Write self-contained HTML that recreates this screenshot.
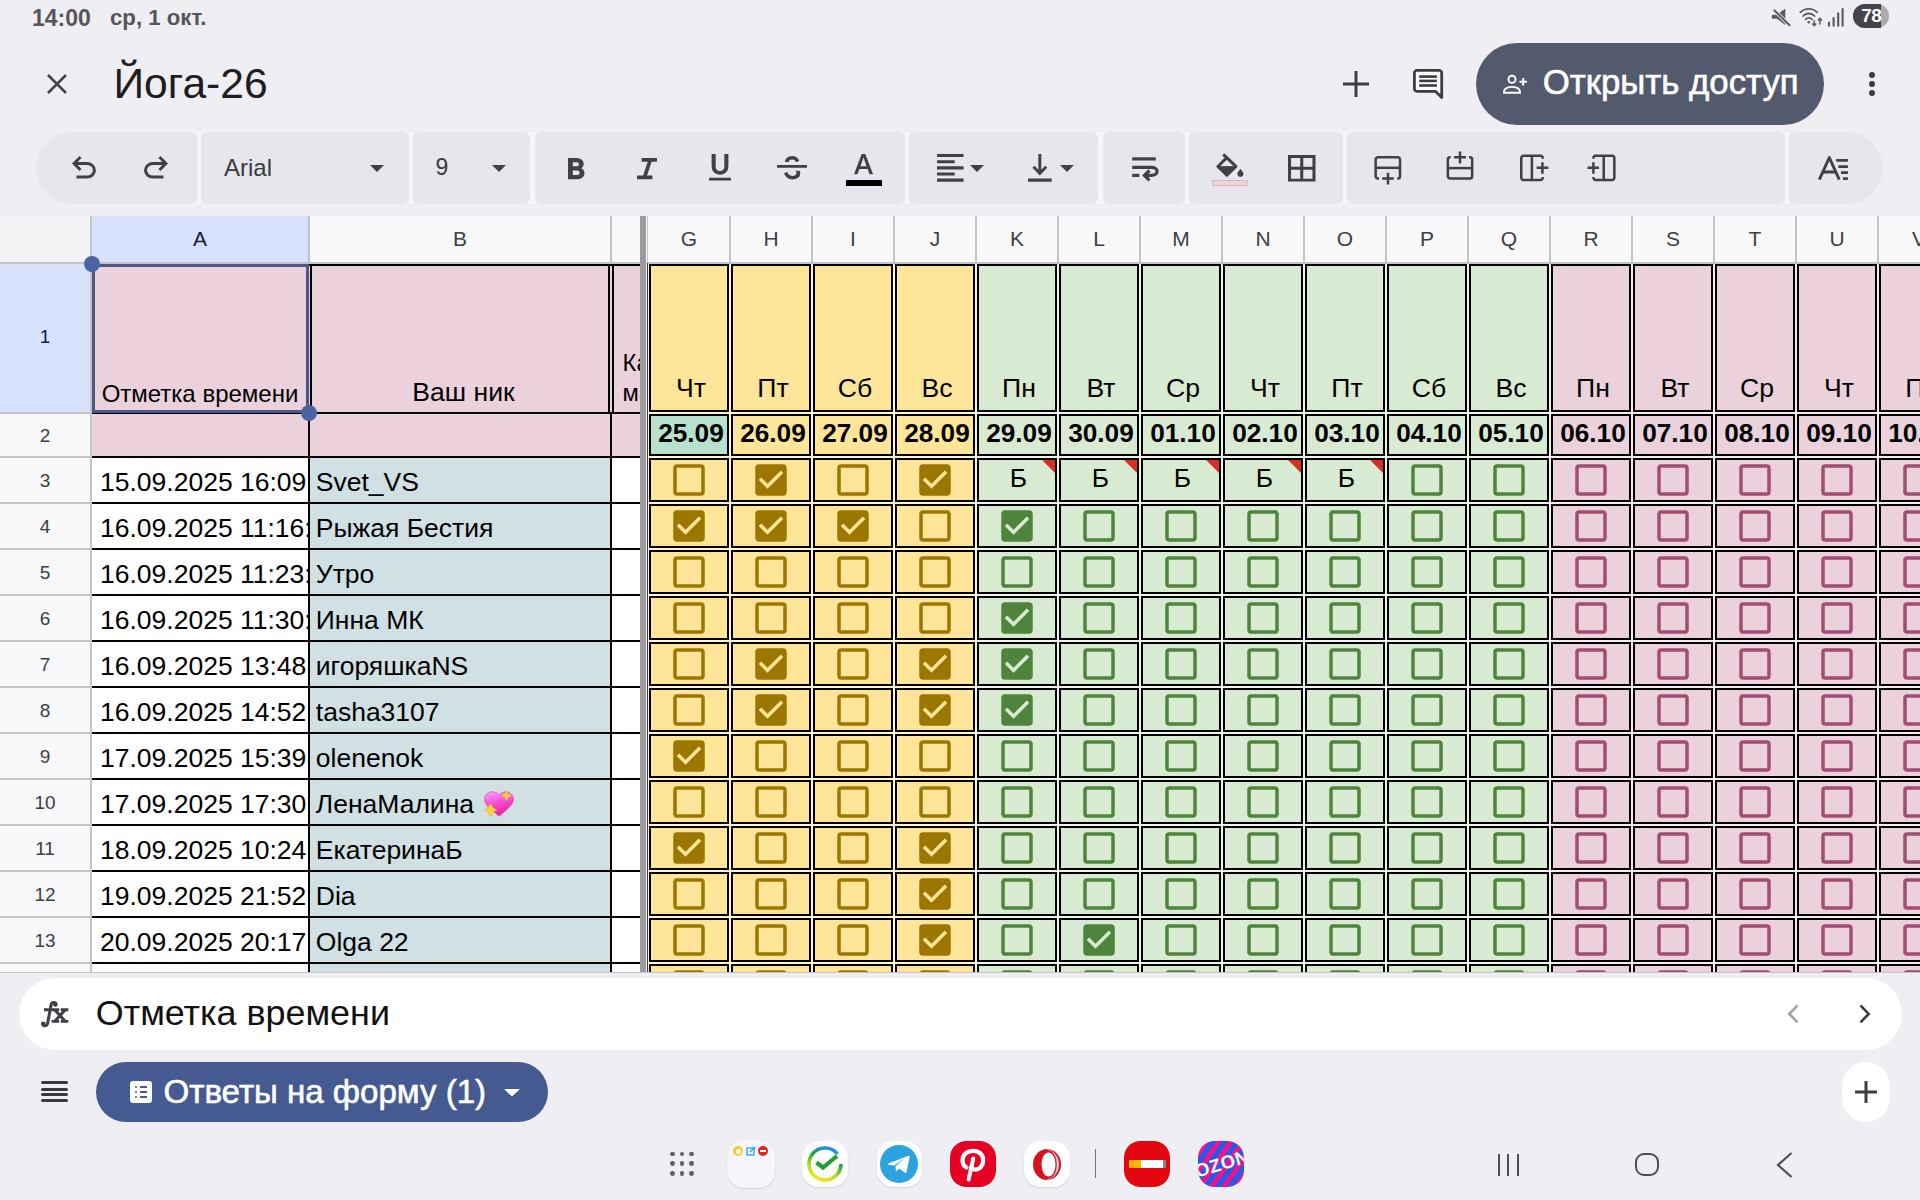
<!DOCTYPE html><html><head><meta charset="utf-8"><style>html,body{margin:0;padding:0;}body{width:1920px;height:1200px;overflow:hidden;position:relative;background:#efeef3;font-family:"Liberation Sans", sans-serif;}.t{position:absolute;white-space:nowrap;}.b{position:absolute;}.s{position:absolute;overflow:visible;}</style></head><body><div class="t" style="top:6.53px;font-size:23px;line-height:23px;color:#55555b;font-weight:bold;left:32.00px;">14:00</div>
<div class="t" style="top:7.21px;font-size:22.2px;line-height:22.2px;color:#55555b;font-weight:bold;left:110.00px;">ср, 1 окт.</div>
<svg class="s" style="left:1768px;top:4px;" width="80" height="26" viewBox="0 0 80 26"><path d="M5.5 10.8h3.6l8.2-6.2v16.4l-8.2-6.2H5.5a1.9 1.9 0 0 1-1.9-1.9v-0.2a1.9 1.9 0 0 1 1.9-1.9z" fill="#58585e"/><path d="M5.6 5.6L22 21.6" stroke="#efeef3" stroke-width="3.6"/><path d="M6.3 6.3L21.6 21.3" stroke="#58585e" stroke-width="1.9" stroke-linecap="round"/><path d="M32.3 8.4A12 12 0 0 1 49.3 8.4" transform="translate(0,0)" stroke="#58585e" stroke-width="1.8" fill="none" stroke-linecap="round"/><path d="M35 12A8 8 0 0 1 46.6 12" stroke="#58585e" stroke-width="1.8" fill="none" stroke-linecap="round"/><path d="M37.6 15.3A4.5 4.5 0 0 1 44 15.3" stroke="#58585e" stroke-width="1.8" fill="none" stroke-linecap="round"/><circle cx="40.8" cy="18.2" r="1.3" fill="#58585e"/><path d="M46.25 16.3V21.5M44.2 19.6L46.25 21.7L48.3 19.6" stroke="#58585e" stroke-width="1.5" fill="none"/><path d="M51.9 20.4V14.6M49.9 16.5L51.9 14.4L53.9 16.5" stroke="#58585e" stroke-width="1.5" fill="none"/><path d="M61 21.7V18.6M65.6 21.7V14M70.2 21.7V9.4M74.6 21.7V5" stroke="#58585e" stroke-width="2.1" stroke-linecap="round"/></svg>
<div class="b" style="left:1853px;top:4px;width:36px;height:24px;background:#ababaf;border-radius:12px;overflow:hidden;"></div>
<div class="b" style="left:1853px;top:4px;width:28px;height:24px;background:#434348;border-radius:12px 0 0 12px;"></div>
<div class="t" style="top:5.82px;font-size:19px;line-height:19px;color:#ffffff;font-weight:bold;left:1861.20px;letter-spacing:-0.5px;">78</div>
<svg class="s" style="left:45px;top:72px;" width="24" height="24" viewBox="0 0 24 24"><path d="M3 3L21 21M21 3L3 21" stroke="#44454c" stroke-width="2.6" fill="none"/></svg>
<div class="t" style="top:61.94px;font-size:42.6px;line-height:42.6px;color:#1d1d22;font-weight:normal;left:113.50px;">Йога-26</div>
<svg class="s" style="left:1343px;top:71px;" width="26" height="26" viewBox="0 0 26 26"><path d="M13 0V26M0 13H26" stroke="#3c3d44" stroke-width="3" fill="none"/></svg>
<svg class="s" style="left:1412px;top:68px;" width="33" height="33" viewBox="0 0 33 33"><path d="M2.4 4.9a2.5 2.5 0 0 1 2.5-2.5h22.3a2.5 2.5 0 0 1 2.5 2.5V29.6l-6.3-6.3H4.9a2.5 2.5 0 0 1-2.5-2.5z" fill="#fff" stroke="#3c3d44" stroke-width="2.8" stroke-linejoin="round"/><rect x="7.2" y="7.3" width="17.7" height="2.6" fill="#3c3d44"/><rect x="7.2" y="11.6" width="17.7" height="2.6" fill="#3c3d44"/><rect x="7.2" y="16.2" width="17.7" height="2.6" fill="#3c3d44"/></svg>
<div class="b" style="left:1476px;top:43px;width:348px;height:82px;background:#535a6e;border-radius:41px;"></div>
<svg class="s" style="left:1500px;top:72px;" width="30" height="24" viewBox="0 0 30 24"><circle cx="12" cy="7.3" r="3.6" fill="none" stroke="#fff" stroke-width="1.9"/><path d="M4 20.8v-1.4c0-2.9 4.2-4.5 8-4.5s8 1.6 8 4.5v1.4z" fill="none" stroke="#fff" stroke-width="1.9"/><path d="M23.2 6v7.4M19.5 9.7h7.4" stroke="#fff" stroke-width="2"/></svg>
<div class="t" style="top:64.94px;font-size:34.8px;line-height:34.8px;color:#ffffff;font-weight:normal;left:1542.70px;-webkit-text-stroke:0.6px #fff;">Открыть доступ</div>
<div class="b" style="left:1868.5px;top:72px;width:6px;height:6px;background:#3c3d44;border-radius:3px;"></div>
<div class="b" style="left:1868.5px;top:81px;width:6px;height:6px;background:#3c3d44;border-radius:3px;"></div>
<div class="b" style="left:1868.5px;top:90px;width:6px;height:6px;background:#3c3d44;border-radius:3px;"></div>
<div class="b" style="left:36px;top:132px;width:1847px;height:72px;background:#f6f6fa;border-radius:36px;"></div>
<div class="b" style="left:36px;top:132px;width:161px;height:72px;background:#e6e6ec;border-radius:36px 6px 6px 36px;"></div>
<div class="b" style="left:201px;top:132px;width:208px;height:72px;background:#e6e6ec;border-radius:6px;"></div>
<div class="b" style="left:413px;top:132px;width:117px;height:72px;background:#e6e6ec;border-radius:6px;"></div>
<div class="b" style="left:535px;top:132px;width:370px;height:72px;background:#e6e6ec;border-radius:6px;"></div>
<div class="b" style="left:909px;top:132px;width:189px;height:72px;background:#e6e6ec;border-radius:6px;"></div>
<div class="b" style="left:1103px;top:132px;width:82px;height:72px;background:#e6e6ec;border-radius:6px;"></div>
<div class="b" style="left:1189px;top:132px;width:154px;height:72px;background:#e6e6ec;border-radius:6px;"></div>
<div class="b" style="left:1347px;top:132px;width:438px;height:72px;background:#e6e6ec;border-radius:6px;"></div>
<div class="b" style="left:1789px;top:132px;width:94px;height:72px;background:#e6e6ec;border-radius:6px 36px 36px 6px;"></div>
<svg class="s" style="left:72.20px;top:156.00px;" width="23.90" height="22.60" viewBox="160 -800 640 600" preserveAspectRatio="none"><path d="M280-200v-80h284q63 0 109.5-40T720-420q0-60-46.5-100T564-560H312l104 104-56 56-200-200 200-200 56 56-104 104h252q97 0 166.5 63T800-420q0 94-69.5 157T564-200H280Z" fill="#404148"/></svg>
<svg class="s" style="left:144.00px;top:156.00px;" width="24.00" height="22.60" viewBox="160 -800 640 600" preserveAspectRatio="none"><path d="M396-200q-97 0-166.5-63T160-420q0-94 69.5-157T396-640h252L544-744l56-56 200 200-200 200-56-56 104-104H396q-63 0-109.5 40T240-420q0 60 46.5 100T396-280h284v80H396Z" fill="#404148"/></svg>
<div class="t" style="top:156.38px;font-size:24px;line-height:24px;color:#3a3b42;font-weight:normal;left:224.00px;">Arial</div>
<svg class="s" style="left:370.0px;top:164.8px;" width="14" height="7" viewBox="0 0 14 7"><path d="M0 0H14L7.0 7Z" fill="#404148"/></svg>
<div class="t" style="top:156.13px;font-size:23px;line-height:23px;color:#3a3b42;font-weight:normal;left:435.50px;">9</div>
<svg class="s" style="left:492.0px;top:164.8px;" width="14" height="7" viewBox="0 0 14 7"><path d="M0 0H14L7.0 7Z" fill="#404148"/></svg>
<svg class="s" style="left:567.50px;top:157.50px;" width="16.50" height="21.25" viewBox="272 -760 416 560" preserveAspectRatio="none"><path d="M272-200v-560h221q65 0 120 40t55 111q0 51-23 78.5T602-491q25 11 55.5 41t30.5 90q0 89-65 124.5T501-200H272Zm121-112h104q48 0 58.5-24.5T566-372q0-11-10.5-35.5T494-432H393v120Zm0-228h93q33 0 48-17t15-38q0-24-17-39t-44-15h-95v109Z" fill="#404148"/></svg>
<svg class="s" style="left:637.00px;top:157.50px;" width="20.00" height="21.25" viewBox="200 -760 520 560" preserveAspectRatio="none"><path d="M200-200v-100h160l120-360H320v-100h400v100H580L460-300h140v100H200Z" fill="#404148"/></svg>
<svg class="s" style="left:709.00px;top:154.40px;" width="22.00" height="26.60" viewBox="200 -840 560 720" preserveAspectRatio="none"><path d="M200-120v-80h560v80H200Zm280-160q-101 0-157-63t-56-167v-330h103v336q0 56 28 91t82 35q54 0 82-35t28-91v-336h103v330q0 104-56 167t-157 63Z" fill="#404148"/></svg>
<svg class="s" style="left:777.00px;top:156.00px;" width="30.00" height="23.40" viewBox="80 -806 800 646" preserveAspectRatio="none"><path d="M486-160q-76 0-135-45t-85-123l88-38q14 48 48.5 79t85.5 31q42 0 76-20t34-64q0-18-7-33t-19-27h112q5 14 7.5 28.5T704-340q0 86-61.5 133T486-160ZM80-480v-80h800v80H80Zm402-326q66 0 115.5 32.5T674-674l-88 39q-9-29-33.5-52T484-710q-41 0-68 18.5T386-640h-96q2-69 54.5-117.5T482-806Z" fill="#404148"/></svg>
<svg class="s" style="left:854.00px;top:154.40px;" width="19.00" height="20.30" viewBox="220 -840 520 560" preserveAspectRatio="none"><path d="M220-280 430-840h100l210 560h-96l-50-144H368l-52 144h-96Zm176-224h168l-82-232h-4l-82 232Z" fill="#404148"/></svg>
<div class="b" style="left:846px;top:180px;width:36px;height:5.6px;background:#000;"></div>
<svg class="s" style="left:936.70px;top:154.00px;" width="26.60" height="27.70" viewBox="120 -840 720 720" preserveAspectRatio="none"><path d="M120-120v-80h720v80H120Zm0-160v-80h480v80H120Zm0-160v-80h720v80H120Zm0-160v-80h480v80H120Zm0-160v-80h720v80H120Z" fill="#404148"/></svg>
<svg class="s" style="left:970.0px;top:165.0px;" width="14" height="7" viewBox="0 0 14 7"><path d="M0 0H14L7.0 7Z" fill="#404148"/></svg>
<svg class="s" style="left:1028.00px;top:154.00px;" width="23.70" height="27.70" viewBox="160 -840 640 720" preserveAspectRatio="none"><path d="M160-120v-80h640v80H160Zm320-160L280-480l56-56 104 104v-408h80v408l104-104 56 56-200 200Z" fill="#404148"/></svg>
<svg class="s" style="left:1060.0px;top:165.0px;" width="14" height="7" viewBox="0 0 14 7"><path d="M0 0H14L7.0 7Z" fill="#404148"/></svg>
<svg class="s" style="left:1128px;top:150px;" width="34" height="36" viewBox="0 0 34 36"><path d="M4.2 8.9H27.8" stroke="#404148" stroke-width="3.2"/><path d="M4.2 17.3H23.5a5.6 4.05 0 0 1 0 8.1H17.5" stroke="#404148" stroke-width="3.2" fill="none"/><path d="M4.2 25.4H11.3" stroke="#404148" stroke-width="3.2"/><path d="M21.5 20.5L16.4 25.4L21.5 30.3" stroke="#404148" stroke-width="3.2" fill="none"/></svg>
<svg class="s" style="left:1208px;top:148px;" width="44" height="42" viewBox="0 0 44 42"><path d="M9.9 18.5L18.7 9.7L27.9 18.4L18.9 27.2Z" stroke="#404148" stroke-width="3" fill="none" stroke-linejoin="round"/><path d="M9.9 18.7H27.9L18.9 27.2Z" fill="#404148" stroke="#404148" stroke-width="1" stroke-linejoin="round"/><path d="M18.7 9.7L15.2 6.3" stroke="#404148" stroke-width="3"/><path d="M32.4 20.8L35.1 24.6A3 3 0 1 1 29.7 24.6Z" fill="#404148"/></svg>
<div class="b" style="left:1212.2px;top:180.2px;width:35.7px;height:5.4px;background:#f1d3de;border:1px solid #d8b4c3;box-sizing:border-box;"></div>
<svg class="s" style="left:1288.30px;top:154.70px;" width="27.50" height="26.60" viewBox="120 -840 720 720" preserveAspectRatio="none"><path d="M120-120v-720h720v720H120Zm640-80v-240H520v240h240Zm0-560H520v240h240v-240Zm-560 0v240h240v-240H200Zm0 560h240v-240H200v240Z" fill="#404148"/></svg>
<svg class="s" style="left:1370px;top:148px;" width="36" height="40" viewBox="0 0 36 40"><path d="M9 30.45H7.95a2.3 2.3 0 0 1-2.3-2.3V11.45a2.3 2.3 0 0 1 2.3-2.3H27.7a2.3 2.3 0 0 1 2.3 2.3V28.15a2.3 2.3 0 0 1-2.3 2.3H27.2" stroke="#404148" stroke-width="2.5" fill="none"/><path d="M5.65 19.8H30" stroke="#404148" stroke-width="2.5" fill="none"/><path d="M12.2 30.45H23.75M18 24.8V36.4" stroke="#404148" stroke-width="2.5" fill="none"/></svg>
<svg class="s" style="left:1442px;top:146px;" width="36" height="40" viewBox="0 0 36 40"><path d="M8.6 11.15H8.15a2.3 2.3 0 0 0-2.3 2.3V30.15a2.3 2.3 0 0 0 2.3 2.3H27.85a2.3 2.3 0 0 0 2.3-2.3V13.45a2.3 2.3 0 0 0-2.3-2.3H27" stroke="#404148" stroke-width="2.5" fill="none"/><path d="M5.85 22.1H30.15" stroke="#404148" stroke-width="2.5" fill="none"/><path d="M12 11.3H24M18 5.6V17.4" stroke="#404148" stroke-width="2.5" fill="none"/></svg>
<svg class="s" style="left:1516px;top:150px;" width="36" height="36" viewBox="0 0 36 36"><path d="M26.75 8.75V7.95a2.3 2.3 0 0 0-2.3-2.3H7.55a2.3 2.3 0 0 0-2.3 2.3V27.7a2.3 2.3 0 0 0 2.3 2.3H24.45a2.3 2.3 0 0 0 2.3-2.3V26.9" stroke="#404148" stroke-width="2.5" fill="none"/><path d="M15.9 5.65V30" stroke="#404148" stroke-width="2.5" fill="none"/><path d="M20.6 17.8H32.4M26.4 12.2V23.75" stroke="#404148" stroke-width="2.5" fill="none"/></svg>
<svg class="s" style="left:1584px;top:150px;" width="36" height="36" viewBox="0 0 36 36"><path d="M9.45 8.75V7.95a2.3 2.3 0 0 1 2.3-2.3H28.05a2.3 2.3 0 0 1 2.3 2.3V27.7a2.3 2.3 0 0 1-2.3 2.3H11.75a2.3 2.3 0 0 1-2.3-2.3V26.9" stroke="#404148" stroke-width="2.5" fill="none"/><path d="M19.75 5.65V30" stroke="#404148" stroke-width="2.5" fill="none"/><path d="M3.5 17.8H15M9.4 12.2V23.75" stroke="#404148" stroke-width="2.5" fill="none"/></svg>
<svg class="s" style="left:1814px;top:150px;" width="40" height="36" viewBox="0 0 40 36"><path d="M5.3 29.7L15.3 7.6L25.3 29.7" stroke="#404148" stroke-width="2.9" fill="none" stroke-linejoin="round"/><path d="M8.6 22H22" stroke="#404148" stroke-width="3"/><path d="M22.2 10.4H33.9M24.4 16.6H33.9M27 22.6H33.9M29 28.6H33.9" stroke="#404148" stroke-width="2.6"/></svg>
<div class="b" style="left:0;top:216px;width:1920px;height:756px;overflow:hidden;background:#fff;">
<div class="b" style="left:0px;top:0px;width:1920px;height:46px;background:#f8f8fb;"></div>
<div class="b" style="left:0px;top:0px;width:90px;height:46px;background:#f3f3f6;"></div>
<div class="b" style="left:91px;top:0px;width:217px;height:46px;background:#d8e2fd;"></div>
<div class="b" style="left:0px;top:47px;width:90px;height:709px;background:#f8f8fb;"></div>
<div class="b" style="left:0px;top:48px;width:90px;height:148px;background:#d8e2fd;"></div>
<div class="b" style="left:90px;top:0px;width:1.5px;height:756px;background:#c4c4c8;"></div>
<div class="t" style="top:11.52px;font-size:21px;line-height:21px;color:#0e1b45;font-weight:normal;left:150.00px;width:100px;text-align:center;">A</div>
<div class="t" style="top:11.52px;font-size:21px;line-height:21px;color:#3c4043;font-weight:normal;left:410.00px;width:100px;text-align:center;">B</div>
<div class="t" style="top:11.52px;font-size:21px;line-height:21px;color:#3c4043;font-weight:normal;left:649.00px;width:80px;text-align:center;">G</div>
<div class="t" style="top:11.52px;font-size:21px;line-height:21px;color:#3c4043;font-weight:normal;left:731.00px;width:80px;text-align:center;">H</div>
<div class="t" style="top:11.52px;font-size:21px;line-height:21px;color:#3c4043;font-weight:normal;left:813.00px;width:80px;text-align:center;">I</div>
<div class="t" style="top:11.52px;font-size:21px;line-height:21px;color:#3c4043;font-weight:normal;left:895.00px;width:80px;text-align:center;">J</div>
<div class="t" style="top:11.52px;font-size:21px;line-height:21px;color:#3c4043;font-weight:normal;left:977.00px;width:80px;text-align:center;">K</div>
<div class="t" style="top:11.52px;font-size:21px;line-height:21px;color:#3c4043;font-weight:normal;left:1059.00px;width:80px;text-align:center;">L</div>
<div class="t" style="top:11.52px;font-size:21px;line-height:21px;color:#3c4043;font-weight:normal;left:1141.00px;width:80px;text-align:center;">M</div>
<div class="t" style="top:11.52px;font-size:21px;line-height:21px;color:#3c4043;font-weight:normal;left:1223.00px;width:80px;text-align:center;">N</div>
<div class="t" style="top:11.52px;font-size:21px;line-height:21px;color:#3c4043;font-weight:normal;left:1305.00px;width:80px;text-align:center;">O</div>
<div class="t" style="top:11.52px;font-size:21px;line-height:21px;color:#3c4043;font-weight:normal;left:1387.00px;width:80px;text-align:center;">P</div>
<div class="t" style="top:11.52px;font-size:21px;line-height:21px;color:#3c4043;font-weight:normal;left:1469.00px;width:80px;text-align:center;">Q</div>
<div class="t" style="top:11.52px;font-size:21px;line-height:21px;color:#3c4043;font-weight:normal;left:1551.00px;width:80px;text-align:center;">R</div>
<div class="t" style="top:11.52px;font-size:21px;line-height:21px;color:#3c4043;font-weight:normal;left:1633.00px;width:80px;text-align:center;">S</div>
<div class="t" style="top:11.52px;font-size:21px;line-height:21px;color:#3c4043;font-weight:normal;left:1715.00px;width:80px;text-align:center;">T</div>
<div class="t" style="top:11.52px;font-size:21px;line-height:21px;color:#3c4043;font-weight:normal;left:1797.00px;width:80px;text-align:center;">U</div>
<div class="t" style="top:11.52px;font-size:21px;line-height:21px;color:#3c4043;font-weight:normal;left:1879.00px;width:80px;text-align:center;">V</div>
<div class="b" style="left:308px;top:0px;width:1.8px;height:46px;background:#c2c3c7;"></div>
<div class="b" style="left:610px;top:0px;width:1.8px;height:46px;background:#c2c3c7;"></div>
<div class="b" style="left:729.2px;top:0px;width:1.8px;height:46px;background:#c2c3c7;"></div>
<div class="b" style="left:811.2px;top:0px;width:1.8px;height:46px;background:#c2c3c7;"></div>
<div class="b" style="left:893.2px;top:0px;width:1.8px;height:46px;background:#c2c3c7;"></div>
<div class="b" style="left:975.2px;top:0px;width:1.8px;height:46px;background:#c2c3c7;"></div>
<div class="b" style="left:1057.2px;top:0px;width:1.8px;height:46px;background:#c2c3c7;"></div>
<div class="b" style="left:1139.2px;top:0px;width:1.8px;height:46px;background:#c2c3c7;"></div>
<div class="b" style="left:1221.2px;top:0px;width:1.8px;height:46px;background:#c2c3c7;"></div>
<div class="b" style="left:1303.2px;top:0px;width:1.8px;height:46px;background:#c2c3c7;"></div>
<div class="b" style="left:1385.2px;top:0px;width:1.8px;height:46px;background:#c2c3c7;"></div>
<div class="b" style="left:1467.2px;top:0px;width:1.8px;height:46px;background:#c2c3c7;"></div>
<div class="b" style="left:1549.2px;top:0px;width:1.8px;height:46px;background:#c2c3c7;"></div>
<div class="b" style="left:1631.2px;top:0px;width:1.8px;height:46px;background:#c2c3c7;"></div>
<div class="b" style="left:1713.2px;top:0px;width:1.8px;height:46px;background:#c2c3c7;"></div>
<div class="b" style="left:1795.2px;top:0px;width:1.8px;height:46px;background:#c2c3c7;"></div>
<div class="b" style="left:1877.2px;top:0px;width:1.8px;height:46px;background:#c2c3c7;"></div>
<div class="b" style="left:1959.2px;top:0px;width:1.8px;height:46px;background:#c2c3c7;"></div>
<div class="b" style="left:647px;top:0px;width:1.2px;height:46px;background:#c2c3c7;"></div>
<div class="t" style="top:111.42px;font-size:19px;line-height:19px;color:#0e1b45;font-weight:normal;left:15.00px;width:60px;text-align:center;">1</div>
<div class="b" style="left:0px;top:196px;width:90px;height:1.5px;background:#c4c4c8;"></div>
<div class="t" style="top:209.72px;font-size:19px;line-height:19px;color:#3c4043;font-weight:normal;left:15.00px;width:60px;text-align:center;">2</div>
<div class="b" style="left:0px;top:240px;width:90px;height:1.5px;background:#c4c4c8;"></div>
<div class="t" style="top:254.72px;font-size:19px;line-height:19px;color:#3c4043;font-weight:normal;left:15.00px;width:60px;text-align:center;">3</div>
<div class="b" style="left:0px;top:286px;width:90px;height:1.5px;background:#c4c4c8;"></div>
<div class="t" style="top:300.72px;font-size:19px;line-height:19px;color:#3c4043;font-weight:normal;left:15.00px;width:60px;text-align:center;">4</div>
<div class="b" style="left:0px;top:332px;width:90px;height:1.5px;background:#c4c4c8;"></div>
<div class="t" style="top:346.72px;font-size:19px;line-height:19px;color:#3c4043;font-weight:normal;left:15.00px;width:60px;text-align:center;">5</div>
<div class="b" style="left:0px;top:378px;width:90px;height:1.5px;background:#c4c4c8;"></div>
<div class="t" style="top:392.72px;font-size:19px;line-height:19px;color:#3c4043;font-weight:normal;left:15.00px;width:60px;text-align:center;">6</div>
<div class="b" style="left:0px;top:424px;width:90px;height:1.5px;background:#c4c4c8;"></div>
<div class="t" style="top:438.72px;font-size:19px;line-height:19px;color:#3c4043;font-weight:normal;left:15.00px;width:60px;text-align:center;">7</div>
<div class="b" style="left:0px;top:470px;width:90px;height:1.5px;background:#c4c4c8;"></div>
<div class="t" style="top:484.72px;font-size:19px;line-height:19px;color:#3c4043;font-weight:normal;left:15.00px;width:60px;text-align:center;">8</div>
<div class="b" style="left:0px;top:516px;width:90px;height:1.5px;background:#c4c4c8;"></div>
<div class="t" style="top:530.72px;font-size:19px;line-height:19px;color:#3c4043;font-weight:normal;left:15.00px;width:60px;text-align:center;">9</div>
<div class="b" style="left:0px;top:562px;width:90px;height:1.5px;background:#c4c4c8;"></div>
<div class="t" style="top:576.72px;font-size:19px;line-height:19px;color:#3c4043;font-weight:normal;left:15.00px;width:60px;text-align:center;">10</div>
<div class="b" style="left:0px;top:608px;width:90px;height:1.5px;background:#c4c4c8;"></div>
<div class="t" style="top:622.72px;font-size:19px;line-height:19px;color:#3c4043;font-weight:normal;left:15.00px;width:60px;text-align:center;">11</div>
<div class="b" style="left:0px;top:654px;width:90px;height:1.5px;background:#c4c4c8;"></div>
<div class="t" style="top:668.72px;font-size:19px;line-height:19px;color:#3c4043;font-weight:normal;left:15.00px;width:60px;text-align:center;">12</div>
<div class="b" style="left:0px;top:700px;width:90px;height:1.5px;background:#c4c4c8;"></div>
<div class="t" style="top:714.72px;font-size:19px;line-height:19px;color:#3c4043;font-weight:normal;left:15.00px;width:60px;text-align:center;">13</div>
<div class="b" style="left:0px;top:746px;width:90px;height:1.5px;background:#c4c4c8;"></div>
<div class="t" style="top:760.72px;font-size:19px;line-height:19px;color:#3c4043;font-weight:normal;left:15.00px;width:60px;text-align:center;">14</div>
<div class="b" style="left:92px;top:48px;width:548px;height:193px;background:#ead1dc;"></div>
<div class="b" style="left:92px;top:241px;width:217px;height:46px;background:#fff;"></div>
<div class="b" style="left:309px;top:241px;width:302px;height:46px;background:#d0e0e3;"></div>
<div class="b" style="left:611px;top:241px;width:29px;height:46px;background:#fff;"></div>
<div class="b" style="left:92px;top:287px;width:217px;height:46px;background:#fff;"></div>
<div class="b" style="left:309px;top:287px;width:302px;height:46px;background:#d0e0e3;"></div>
<div class="b" style="left:611px;top:287px;width:29px;height:46px;background:#fff;"></div>
<div class="b" style="left:92px;top:333px;width:217px;height:46px;background:#fff;"></div>
<div class="b" style="left:309px;top:333px;width:302px;height:46px;background:#d0e0e3;"></div>
<div class="b" style="left:611px;top:333px;width:29px;height:46px;background:#fff;"></div>
<div class="b" style="left:92px;top:379px;width:217px;height:46px;background:#fff;"></div>
<div class="b" style="left:309px;top:379px;width:302px;height:46px;background:#d0e0e3;"></div>
<div class="b" style="left:611px;top:379px;width:29px;height:46px;background:#fff;"></div>
<div class="b" style="left:92px;top:425px;width:217px;height:46px;background:#fff;"></div>
<div class="b" style="left:309px;top:425px;width:302px;height:46px;background:#d0e0e3;"></div>
<div class="b" style="left:611px;top:425px;width:29px;height:46px;background:#fff;"></div>
<div class="b" style="left:92px;top:471px;width:217px;height:46px;background:#fff;"></div>
<div class="b" style="left:309px;top:471px;width:302px;height:46px;background:#d0e0e3;"></div>
<div class="b" style="left:611px;top:471px;width:29px;height:46px;background:#fff;"></div>
<div class="b" style="left:92px;top:517px;width:217px;height:46px;background:#fff;"></div>
<div class="b" style="left:309px;top:517px;width:302px;height:46px;background:#d0e0e3;"></div>
<div class="b" style="left:611px;top:517px;width:29px;height:46px;background:#fff;"></div>
<div class="b" style="left:92px;top:563px;width:217px;height:46px;background:#fff;"></div>
<div class="b" style="left:309px;top:563px;width:302px;height:46px;background:#d0e0e3;"></div>
<div class="b" style="left:611px;top:563px;width:29px;height:46px;background:#fff;"></div>
<div class="b" style="left:92px;top:609px;width:217px;height:46px;background:#fff;"></div>
<div class="b" style="left:309px;top:609px;width:302px;height:46px;background:#d0e0e3;"></div>
<div class="b" style="left:611px;top:609px;width:29px;height:46px;background:#fff;"></div>
<div class="b" style="left:92px;top:655px;width:217px;height:46px;background:#fff;"></div>
<div class="b" style="left:309px;top:655px;width:302px;height:46px;background:#d0e0e3;"></div>
<div class="b" style="left:611px;top:655px;width:29px;height:46px;background:#fff;"></div>
<div class="b" style="left:92px;top:701px;width:217px;height:46px;background:#fff;"></div>
<div class="b" style="left:309px;top:701px;width:302px;height:46px;background:#d0e0e3;"></div>
<div class="b" style="left:611px;top:701px;width:29px;height:46px;background:#fff;"></div>
<div class="b" style="left:92px;top:747px;width:217px;height:46px;background:#fff;"></div>
<div class="b" style="left:309px;top:747px;width:302px;height:46px;background:#d0e0e3;"></div>
<div class="b" style="left:611px;top:747px;width:29px;height:46px;background:#fff;"></div>
<div class="b" style="left:92px;top:48px;width:548px;height:2px;background:#000;"></div>
<div class="b" style="left:310px;top:48px;width:2px;height:149px;background:#000;"></div>
<div class="b" style="left:608px;top:48px;width:2px;height:149px;background:#000;"></div>
<div class="b" style="left:612px;top:48px;width:2px;height:149px;background:#000;"></div>
<div class="b" style="left:92px;top:196px;width:548px;height:2px;background:#000;"></div>
<div class="b" style="left:92px;top:240px;width:548px;height:2px;background:#000;"></div>
<div class="b" style="left:92px;top:286px;width:548px;height:2px;background:#000;"></div>
<div class="b" style="left:92px;top:332px;width:548px;height:2px;background:#000;"></div>
<div class="b" style="left:92px;top:378px;width:548px;height:2px;background:#000;"></div>
<div class="b" style="left:92px;top:424px;width:548px;height:2px;background:#000;"></div>
<div class="b" style="left:92px;top:470px;width:548px;height:2px;background:#000;"></div>
<div class="b" style="left:92px;top:516px;width:548px;height:2px;background:#000;"></div>
<div class="b" style="left:92px;top:562px;width:548px;height:2px;background:#000;"></div>
<div class="b" style="left:92px;top:608px;width:548px;height:2px;background:#000;"></div>
<div class="b" style="left:92px;top:654px;width:548px;height:2px;background:#000;"></div>
<div class="b" style="left:92px;top:700px;width:548px;height:2px;background:#000;"></div>
<div class="b" style="left:92px;top:746px;width:548px;height:2px;background:#000;"></div>
<div class="b" style="left:308px;top:197px;width:2px;height:559px;background:#000;"></div>
<div class="b" style="left:610px;top:197px;width:2px;height:559px;background:#000;"></div>
<div class="t" style="top:166.18px;font-size:24px;line-height:24px;color:#000;font-weight:normal;left:92.00px;width:216px;text-align:center;">Отметка времени</div>
<div class="t" style="top:163.38px;font-size:26.6px;line-height:26.6px;color:#000;font-weight:normal;left:318.50px;width:290px;text-align:center;">Ваш ник</div>
<div class="b" style="left:614px;top:114px;width:26px;height:80px;overflow:hidden;">
<div class="t" style="top:21.54px;font-size:23.7px;line-height:23.7px;color:#000;font-weight:normal;left:8.60px;">Ка</div>
<div class="t" style="top:51.54px;font-size:23.7px;line-height:23.7px;color:#000;font-weight:normal;left:8.60px;">ма</div>
</div>
<div class="b" style="left:93px;top:241px;width:215px;height:46px;overflow:hidden;">
<div class="t" style="top:12.27px;font-size:26.5px;line-height:26.5px;color:#000;font-weight:normal;left:7.00px;">15.09.2025 16:09:</div>
</div>
<div class="t" style="top:253.27px;font-size:26.5px;line-height:26.5px;color:#000;font-weight:normal;left:315.80px;">Svet_VS</div>
<div class="b" style="left:93px;top:287px;width:215px;height:46px;overflow:hidden;">
<div class="t" style="top:12.27px;font-size:26.5px;line-height:26.5px;color:#000;font-weight:normal;left:7.00px;">16.09.2025 11:16:</div>
</div>
<div class="t" style="top:299.27px;font-size:26.5px;line-height:26.5px;color:#000;font-weight:normal;left:315.80px;">Рыжая Бестия</div>
<div class="b" style="left:93px;top:333px;width:215px;height:46px;overflow:hidden;">
<div class="t" style="top:12.27px;font-size:26.5px;line-height:26.5px;color:#000;font-weight:normal;left:7.00px;">16.09.2025 11:23:</div>
</div>
<div class="t" style="top:345.27px;font-size:26.5px;line-height:26.5px;color:#000;font-weight:normal;left:315.80px;">Утро</div>
<div class="b" style="left:93px;top:379px;width:215px;height:46px;overflow:hidden;">
<div class="t" style="top:12.27px;font-size:26.5px;line-height:26.5px;color:#000;font-weight:normal;left:7.00px;">16.09.2025 11:30:</div>
</div>
<div class="t" style="top:391.27px;font-size:26.5px;line-height:26.5px;color:#000;font-weight:normal;left:315.80px;">Инна МК</div>
<div class="b" style="left:93px;top:425px;width:215px;height:46px;overflow:hidden;">
<div class="t" style="top:12.27px;font-size:26.5px;line-height:26.5px;color:#000;font-weight:normal;left:7.00px;">16.09.2025 13:48:</div>
</div>
<div class="t" style="top:437.27px;font-size:26.5px;line-height:26.5px;color:#000;font-weight:normal;left:315.80px;">игоряшкаNS</div>
<div class="b" style="left:93px;top:471px;width:215px;height:46px;overflow:hidden;">
<div class="t" style="top:12.27px;font-size:26.5px;line-height:26.5px;color:#000;font-weight:normal;left:7.00px;">16.09.2025 14:52:</div>
</div>
<div class="t" style="top:483.27px;font-size:26.5px;line-height:26.5px;color:#000;font-weight:normal;left:315.80px;">tasha3107</div>
<div class="b" style="left:93px;top:517px;width:215px;height:46px;overflow:hidden;">
<div class="t" style="top:12.27px;font-size:26.5px;line-height:26.5px;color:#000;font-weight:normal;left:7.00px;">17.09.2025 15:39:</div>
</div>
<div class="t" style="top:529.27px;font-size:26.5px;line-height:26.5px;color:#000;font-weight:normal;left:315.80px;">olenenok</div>
<div class="b" style="left:93px;top:563px;width:215px;height:46px;overflow:hidden;">
<div class="t" style="top:12.27px;font-size:26.5px;line-height:26.5px;color:#000;font-weight:normal;left:7.00px;">17.09.2025 17:30:</div>
</div>
<div class="t" style="top:575.27px;font-size:26.5px;line-height:26.5px;color:#000;font-weight:normal;left:315.80px;">ЛенаМалина</div>
<div class="b" style="left:93px;top:609px;width:215px;height:46px;overflow:hidden;">
<div class="t" style="top:12.27px;font-size:26.5px;line-height:26.5px;color:#000;font-weight:normal;left:7.00px;">18.09.2025 10:24:</div>
</div>
<div class="t" style="top:621.27px;font-size:26.5px;line-height:26.5px;color:#000;font-weight:normal;left:315.80px;">ЕкатеринаБ</div>
<div class="b" style="left:93px;top:655px;width:215px;height:46px;overflow:hidden;">
<div class="t" style="top:12.27px;font-size:26.5px;line-height:26.5px;color:#000;font-weight:normal;left:7.00px;">19.09.2025 21:52:</div>
</div>
<div class="t" style="top:667.27px;font-size:26.5px;line-height:26.5px;color:#000;font-weight:normal;left:315.80px;">Dia</div>
<div class="b" style="left:93px;top:701px;width:215px;height:46px;overflow:hidden;">
<div class="t" style="top:12.27px;font-size:26.5px;line-height:26.5px;color:#000;font-weight:normal;left:7.00px;">20.09.2025 20:17:</div>
</div>
<div class="t" style="top:713.27px;font-size:26.5px;line-height:26.5px;color:#000;font-weight:normal;left:315.80px;">Olga 22</div>
<div class="b" style="left:93px;top:747px;width:215px;height:46px;overflow:hidden;">
<div class="t" style="top:12.27px;font-size:26.5px;line-height:26.5px;color:#000;font-weight:normal;left:7.00px;">21.09.2025 10:00:</div>
</div>
<div class="t" style="top:759.27px;font-size:26.5px;line-height:26.5px;color:#000;font-weight:normal;left:315.80px;">x</div>
<svg class="s" style="left:483px;top:573px" width="31" height="32" viewBox="0 0 31 32"><defs><linearGradient id="hg" x1="0" y1="0" x2="0.3" y2="1"><stop offset="0" stop-color="#ffa8f5"/><stop offset="0.5" stop-color="#fb4fdc"/><stop offset="1" stop-color="#e8239a"/></linearGradient></defs><path transform="translate(-1.4,-1.2) scale(1.45,1.33)" d="M12 21.35l-1.45-1.32C5.4 15.36 2 12.28 2 8.5 2 5.42 4.42 3 7.5 3c1.74 0 3.41.81 4.5 2.09C13.09 3.81 14.76 3 16.5 3 19.58 3 22 5.42 22 8.5c0 3.78-3.4 6.86-8.55 11.54L12 21.35z" fill="url(#hg)" stroke="#d9369c" stroke-width="0.4"/><path d="M7.5 14.5L10 18.5 14 21 10 23.5 7.5 28 5 23.5 1 21 5 18.5Z" fill="#ffd23a" stroke="#e9a13a" stroke-width="0.5"/><path d="M23.5 1.5L25.3 4.8 28.6 6.6 25.3 8.4 23.5 11.7 21.7 8.4 18.4 6.6 21.7 4.8Z" fill="#ffd23a" stroke="#e9a13a" stroke-width="0.5"/></svg>
<div class="b" style="left:646px;top:0;width:1274px;height:756px;overflow:hidden;">
<div class="b" style="left:2px;top:47px;width:82px;height:709px;background:#fff3d1;"></div>
<div class="b" style="left:84px;top:47px;width:82px;height:709px;background:#fff3d1;"></div>
<div class="b" style="left:166px;top:47px;width:82px;height:709px;background:#fff3d1;"></div>
<div class="b" style="left:248px;top:47px;width:82px;height:709px;background:#fff3d1;"></div>
<div class="b" style="left:330px;top:47px;width:82px;height:709px;background:#eef6ea;"></div>
<div class="b" style="left:412px;top:47px;width:82px;height:709px;background:#eef6ea;"></div>
<div class="b" style="left:494px;top:47px;width:82px;height:709px;background:#eef6ea;"></div>
<div class="b" style="left:576px;top:47px;width:82px;height:709px;background:#eef6ea;"></div>
<div class="b" style="left:658px;top:47px;width:82px;height:709px;background:#eef6ea;"></div>
<div class="b" style="left:740px;top:47px;width:82px;height:709px;background:#eef6ea;"></div>
<div class="b" style="left:822px;top:47px;width:82px;height:709px;background:#eef6ea;"></div>
<div class="b" style="left:904px;top:47px;width:82px;height:709px;background:#f7eaf0;"></div>
<div class="b" style="left:986px;top:47px;width:82px;height:709px;background:#f7eaf0;"></div>
<div class="b" style="left:1068px;top:47px;width:82px;height:709px;background:#f7eaf0;"></div>
<div class="b" style="left:1150px;top:47px;width:82px;height:709px;background:#f7eaf0;"></div>
<div class="b" style="left:1232px;top:47px;width:82px;height:709px;background:#f7eaf0;"></div>
<div class="b" style="left:3px;top:48px;width:80px;height:148px;background:#ffe599;border:2px solid #000;box-sizing:border-box;"></div>
<div class="t" style="top:159.38px;font-size:26.6px;line-height:26.6px;color:#000;font-weight:normal;left:5.00px;width:80px;text-align:center;">Чт</div>
<div class="b" style="left:85px;top:48px;width:80px;height:148px;background:#ffe599;border:2px solid #000;box-sizing:border-box;"></div>
<div class="t" style="top:159.38px;font-size:26.6px;line-height:26.6px;color:#000;font-weight:normal;left:87.00px;width:80px;text-align:center;">Пт</div>
<div class="b" style="left:167px;top:48px;width:80px;height:148px;background:#ffe599;border:2px solid #000;box-sizing:border-box;"></div>
<div class="t" style="top:159.38px;font-size:26.6px;line-height:26.6px;color:#000;font-weight:normal;left:169.00px;width:80px;text-align:center;">Сб</div>
<div class="b" style="left:249px;top:48px;width:80px;height:148px;background:#ffe599;border:2px solid #000;box-sizing:border-box;"></div>
<div class="t" style="top:159.38px;font-size:26.6px;line-height:26.6px;color:#000;font-weight:normal;left:251.00px;width:80px;text-align:center;">Вс</div>
<div class="b" style="left:331px;top:48px;width:80px;height:148px;background:#d9ead3;border:2px solid #000;box-sizing:border-box;"></div>
<div class="t" style="top:159.38px;font-size:26.6px;line-height:26.6px;color:#000;font-weight:normal;left:333.00px;width:80px;text-align:center;">Пн</div>
<div class="b" style="left:413px;top:48px;width:80px;height:148px;background:#d9ead3;border:2px solid #000;box-sizing:border-box;"></div>
<div class="t" style="top:159.38px;font-size:26.6px;line-height:26.6px;color:#000;font-weight:normal;left:415.00px;width:80px;text-align:center;">Вт</div>
<div class="b" style="left:495px;top:48px;width:80px;height:148px;background:#d9ead3;border:2px solid #000;box-sizing:border-box;"></div>
<div class="t" style="top:159.38px;font-size:26.6px;line-height:26.6px;color:#000;font-weight:normal;left:497.00px;width:80px;text-align:center;">Ср</div>
<div class="b" style="left:577px;top:48px;width:80px;height:148px;background:#d9ead3;border:2px solid #000;box-sizing:border-box;"></div>
<div class="t" style="top:159.38px;font-size:26.6px;line-height:26.6px;color:#000;font-weight:normal;left:579.00px;width:80px;text-align:center;">Чт</div>
<div class="b" style="left:659px;top:48px;width:80px;height:148px;background:#d9ead3;border:2px solid #000;box-sizing:border-box;"></div>
<div class="t" style="top:159.38px;font-size:26.6px;line-height:26.6px;color:#000;font-weight:normal;left:661.00px;width:80px;text-align:center;">Пт</div>
<div class="b" style="left:741px;top:48px;width:80px;height:148px;background:#d9ead3;border:2px solid #000;box-sizing:border-box;"></div>
<div class="t" style="top:159.38px;font-size:26.6px;line-height:26.6px;color:#000;font-weight:normal;left:743.00px;width:80px;text-align:center;">Сб</div>
<div class="b" style="left:823px;top:48px;width:80px;height:148px;background:#d9ead3;border:2px solid #000;box-sizing:border-box;"></div>
<div class="t" style="top:159.38px;font-size:26.6px;line-height:26.6px;color:#000;font-weight:normal;left:825.00px;width:80px;text-align:center;">Вс</div>
<div class="b" style="left:905px;top:48px;width:80px;height:148px;background:#ead1dc;border:2px solid #000;box-sizing:border-box;"></div>
<div class="t" style="top:159.38px;font-size:26.6px;line-height:26.6px;color:#000;font-weight:normal;left:907.00px;width:80px;text-align:center;">Пн</div>
<div class="b" style="left:987px;top:48px;width:80px;height:148px;background:#ead1dc;border:2px solid #000;box-sizing:border-box;"></div>
<div class="t" style="top:159.38px;font-size:26.6px;line-height:26.6px;color:#000;font-weight:normal;left:989.00px;width:80px;text-align:center;">Вт</div>
<div class="b" style="left:1069px;top:48px;width:80px;height:148px;background:#ead1dc;border:2px solid #000;box-sizing:border-box;"></div>
<div class="t" style="top:159.38px;font-size:26.6px;line-height:26.6px;color:#000;font-weight:normal;left:1071.00px;width:80px;text-align:center;">Ср</div>
<div class="b" style="left:1151px;top:48px;width:80px;height:148px;background:#ead1dc;border:2px solid #000;box-sizing:border-box;"></div>
<div class="t" style="top:159.38px;font-size:26.6px;line-height:26.6px;color:#000;font-weight:normal;left:1153.00px;width:80px;text-align:center;">Чт</div>
<div class="b" style="left:1233px;top:48px;width:80px;height:148px;background:#ead1dc;border:2px solid #000;box-sizing:border-box;"></div>
<div class="t" style="top:159.38px;font-size:26.6px;line-height:26.6px;color:#000;font-weight:normal;left:1235.00px;width:80px;text-align:center;">Пт</div>
<div class="b" style="left:3px;top:198px;width:80px;height:42px;background:#b7e1cd;border:2px solid #000;box-sizing:border-box;"></div>
<div class="t" style="top:203.72px;font-size:26.2px;line-height:26.2px;color:#000;font-weight:bold;left:5.00px;width:80px;text-align:center;">25.09</div>
<div class="b" style="left:85px;top:198px;width:80px;height:42px;background:#ffe599;border:2px solid #000;box-sizing:border-box;"></div>
<div class="t" style="top:203.72px;font-size:26.2px;line-height:26.2px;color:#000;font-weight:bold;left:87.00px;width:80px;text-align:center;">26.09</div>
<div class="b" style="left:167px;top:198px;width:80px;height:42px;background:#ffe599;border:2px solid #000;box-sizing:border-box;"></div>
<div class="t" style="top:203.72px;font-size:26.2px;line-height:26.2px;color:#000;font-weight:bold;left:169.00px;width:80px;text-align:center;">27.09</div>
<div class="b" style="left:249px;top:198px;width:80px;height:42px;background:#ffe599;border:2px solid #000;box-sizing:border-box;"></div>
<div class="t" style="top:203.72px;font-size:26.2px;line-height:26.2px;color:#000;font-weight:bold;left:251.00px;width:80px;text-align:center;">28.09</div>
<div class="b" style="left:331px;top:198px;width:80px;height:42px;background:#d9ead3;border:2px solid #000;box-sizing:border-box;"></div>
<div class="t" style="top:203.72px;font-size:26.2px;line-height:26.2px;color:#000;font-weight:bold;left:333.00px;width:80px;text-align:center;">29.09</div>
<div class="b" style="left:413px;top:198px;width:80px;height:42px;background:#d9ead3;border:2px solid #000;box-sizing:border-box;"></div>
<div class="t" style="top:203.72px;font-size:26.2px;line-height:26.2px;color:#000;font-weight:bold;left:415.00px;width:80px;text-align:center;">30.09</div>
<div class="b" style="left:495px;top:198px;width:80px;height:42px;background:#d9ead3;border:2px solid #000;box-sizing:border-box;"></div>
<div class="t" style="top:203.72px;font-size:26.2px;line-height:26.2px;color:#000;font-weight:bold;left:497.00px;width:80px;text-align:center;">01.10</div>
<div class="b" style="left:577px;top:198px;width:80px;height:42px;background:#d9ead3;border:2px solid #000;box-sizing:border-box;"></div>
<div class="t" style="top:203.72px;font-size:26.2px;line-height:26.2px;color:#000;font-weight:bold;left:579.00px;width:80px;text-align:center;">02.10</div>
<div class="b" style="left:659px;top:198px;width:80px;height:42px;background:#d9ead3;border:2px solid #000;box-sizing:border-box;"></div>
<div class="t" style="top:203.72px;font-size:26.2px;line-height:26.2px;color:#000;font-weight:bold;left:661.00px;width:80px;text-align:center;">03.10</div>
<div class="b" style="left:741px;top:198px;width:80px;height:42px;background:#d9ead3;border:2px solid #000;box-sizing:border-box;"></div>
<div class="t" style="top:203.72px;font-size:26.2px;line-height:26.2px;color:#000;font-weight:bold;left:743.00px;width:80px;text-align:center;">04.10</div>
<div class="b" style="left:823px;top:198px;width:80px;height:42px;background:#d9ead3;border:2px solid #000;box-sizing:border-box;"></div>
<div class="t" style="top:203.72px;font-size:26.2px;line-height:26.2px;color:#000;font-weight:bold;left:825.00px;width:80px;text-align:center;">05.10</div>
<div class="b" style="left:905px;top:198px;width:80px;height:42px;background:#ead1dc;border:2px solid #000;box-sizing:border-box;"></div>
<div class="t" style="top:203.72px;font-size:26.2px;line-height:26.2px;color:#000;font-weight:bold;left:907.00px;width:80px;text-align:center;">06.10</div>
<div class="b" style="left:987px;top:198px;width:80px;height:42px;background:#ead1dc;border:2px solid #000;box-sizing:border-box;"></div>
<div class="t" style="top:203.72px;font-size:26.2px;line-height:26.2px;color:#000;font-weight:bold;left:989.00px;width:80px;text-align:center;">07.10</div>
<div class="b" style="left:1069px;top:198px;width:80px;height:42px;background:#ead1dc;border:2px solid #000;box-sizing:border-box;"></div>
<div class="t" style="top:203.72px;font-size:26.2px;line-height:26.2px;color:#000;font-weight:bold;left:1071.00px;width:80px;text-align:center;">08.10</div>
<div class="b" style="left:1151px;top:198px;width:80px;height:42px;background:#ead1dc;border:2px solid #000;box-sizing:border-box;"></div>
<div class="t" style="top:203.72px;font-size:26.2px;line-height:26.2px;color:#000;font-weight:bold;left:1153.00px;width:80px;text-align:center;">09.10</div>
<div class="b" style="left:1233px;top:198px;width:80px;height:42px;background:#ead1dc;border:2px solid #000;box-sizing:border-box;"></div>
<div class="t" style="top:203.72px;font-size:26.2px;line-height:26.2px;color:#000;font-weight:bold;left:1235.00px;width:80px;text-align:center;">10.10</div>
<div class="b" style="left:3px;top:242px;width:80px;height:44px;background:#ffe599;border:2px solid #000;box-sizing:border-box;"></div>
<svg class="s" style="left:21.9px;top:242.9px" width="42" height="42" viewBox="0 0 24 24"><path d="M19 5v14H5V5h14m0-2H5c-1.1 0-2 .9-2 2v14c0 1.1.9 2 2 2h14c1.1 0 2-.9 2-2V5c0-1.1-.9-2-2-2z" fill="#9b7600"/></svg>
<div class="b" style="left:85px;top:242px;width:80px;height:44px;background:#ffe599;border:2px solid #000;box-sizing:border-box;"></div>
<svg class="s" style="left:103.9px;top:242.9px" width="42" height="42" viewBox="0 0 24 24"><path d="M19 3H5c-1.11 0-2 .9-2 2v14c0 1.1.89 2 2 2h14c1.11 0 2-.9 2-2V5c0-1.1-.89-2-2-2zm-9 14l-5-5 1.41-1.41L10 14.17l7.59-7.59L19 8l-9 9z" fill="#9b7600"/></svg>
<div class="b" style="left:167px;top:242px;width:80px;height:44px;background:#ffe599;border:2px solid #000;box-sizing:border-box;"></div>
<svg class="s" style="left:185.9px;top:242.9px" width="42" height="42" viewBox="0 0 24 24"><path d="M19 5v14H5V5h14m0-2H5c-1.1 0-2 .9-2 2v14c0 1.1.9 2 2 2h14c1.1 0 2-.9 2-2V5c0-1.1-.9-2-2-2z" fill="#9b7600"/></svg>
<div class="b" style="left:249px;top:242px;width:80px;height:44px;background:#ffe599;border:2px solid #000;box-sizing:border-box;"></div>
<svg class="s" style="left:267.9px;top:242.9px" width="42" height="42" viewBox="0 0 24 24"><path d="M19 3H5c-1.11 0-2 .9-2 2v14c0 1.1.89 2 2 2h14c1.11 0 2-.9 2-2V5c0-1.1-.89-2-2-2zm-9 14l-5-5 1.41-1.41L10 14.17l7.59-7.59L19 8l-9 9z" fill="#9b7600"/></svg>
<div class="b" style="left:331px;top:242px;width:80px;height:44px;background:#d9ead3;border:2px solid #000;box-sizing:border-box;"></div>
<div class="t" style="top:249.45px;font-size:26.4px;line-height:26.4px;color:#000;font-weight:normal;left:332.50px;width:80px;text-align:center;">Б</div>
<svg class="s" style="left:396px;top:244px" width="13" height="13" viewBox="0 0 13 13"><path d="M0 0H13V13Z" fill="#d93025"/></svg>
<div class="b" style="left:413px;top:242px;width:80px;height:44px;background:#d9ead3;border:2px solid #000;box-sizing:border-box;"></div>
<div class="t" style="top:249.45px;font-size:26.4px;line-height:26.4px;color:#000;font-weight:normal;left:414.50px;width:80px;text-align:center;">Б</div>
<svg class="s" style="left:478px;top:244px" width="13" height="13" viewBox="0 0 13 13"><path d="M0 0H13V13Z" fill="#d93025"/></svg>
<div class="b" style="left:495px;top:242px;width:80px;height:44px;background:#d9ead3;border:2px solid #000;box-sizing:border-box;"></div>
<div class="t" style="top:249.45px;font-size:26.4px;line-height:26.4px;color:#000;font-weight:normal;left:496.50px;width:80px;text-align:center;">Б</div>
<svg class="s" style="left:560px;top:244px" width="13" height="13" viewBox="0 0 13 13"><path d="M0 0H13V13Z" fill="#d93025"/></svg>
<div class="b" style="left:577px;top:242px;width:80px;height:44px;background:#d9ead3;border:2px solid #000;box-sizing:border-box;"></div>
<div class="t" style="top:249.45px;font-size:26.4px;line-height:26.4px;color:#000;font-weight:normal;left:578.50px;width:80px;text-align:center;">Б</div>
<svg class="s" style="left:642px;top:244px" width="13" height="13" viewBox="0 0 13 13"><path d="M0 0H13V13Z" fill="#d93025"/></svg>
<div class="b" style="left:659px;top:242px;width:80px;height:44px;background:#d9ead3;border:2px solid #000;box-sizing:border-box;"></div>
<div class="t" style="top:249.45px;font-size:26.4px;line-height:26.4px;color:#000;font-weight:normal;left:660.50px;width:80px;text-align:center;">Б</div>
<svg class="s" style="left:724px;top:244px" width="13" height="13" viewBox="0 0 13 13"><path d="M0 0H13V13Z" fill="#d93025"/></svg>
<div class="b" style="left:741px;top:242px;width:80px;height:44px;background:#d9ead3;border:2px solid #000;box-sizing:border-box;"></div>
<svg class="s" style="left:759.9px;top:242.9px" width="42" height="42" viewBox="0 0 24 24"><path d="M19 5v14H5V5h14m0-2H5c-1.1 0-2 .9-2 2v14c0 1.1.9 2 2 2h14c1.1 0 2-.9 2-2V5c0-1.1-.9-2-2-2z" fill="#4e843c"/></svg>
<div class="b" style="left:823px;top:242px;width:80px;height:44px;background:#d9ead3;border:2px solid #000;box-sizing:border-box;"></div>
<svg class="s" style="left:841.9px;top:242.9px" width="42" height="42" viewBox="0 0 24 24"><path d="M19 5v14H5V5h14m0-2H5c-1.1 0-2 .9-2 2v14c0 1.1.9 2 2 2h14c1.1 0 2-.9 2-2V5c0-1.1-.9-2-2-2z" fill="#4e843c"/></svg>
<div class="b" style="left:905px;top:242px;width:80px;height:44px;background:#ead1dc;border:2px solid #000;box-sizing:border-box;"></div>
<svg class="s" style="left:923.9px;top:242.9px" width="42" height="42" viewBox="0 0 24 24"><path d="M19 5v14H5V5h14m0-2H5c-1.1 0-2 .9-2 2v14c0 1.1.9 2 2 2h14c1.1 0 2-.9 2-2V5c0-1.1-.9-2-2-2z" fill="#a14e72"/></svg>
<div class="b" style="left:987px;top:242px;width:80px;height:44px;background:#ead1dc;border:2px solid #000;box-sizing:border-box;"></div>
<svg class="s" style="left:1005.9px;top:242.9px" width="42" height="42" viewBox="0 0 24 24"><path d="M19 5v14H5V5h14m0-2H5c-1.1 0-2 .9-2 2v14c0 1.1.9 2 2 2h14c1.1 0 2-.9 2-2V5c0-1.1-.9-2-2-2z" fill="#a14e72"/></svg>
<div class="b" style="left:1069px;top:242px;width:80px;height:44px;background:#ead1dc;border:2px solid #000;box-sizing:border-box;"></div>
<svg class="s" style="left:1087.9px;top:242.9px" width="42" height="42" viewBox="0 0 24 24"><path d="M19 5v14H5V5h14m0-2H5c-1.1 0-2 .9-2 2v14c0 1.1.9 2 2 2h14c1.1 0 2-.9 2-2V5c0-1.1-.9-2-2-2z" fill="#a14e72"/></svg>
<div class="b" style="left:1151px;top:242px;width:80px;height:44px;background:#ead1dc;border:2px solid #000;box-sizing:border-box;"></div>
<svg class="s" style="left:1169.9px;top:242.9px" width="42" height="42" viewBox="0 0 24 24"><path d="M19 5v14H5V5h14m0-2H5c-1.1 0-2 .9-2 2v14c0 1.1.9 2 2 2h14c1.1 0 2-.9 2-2V5c0-1.1-.9-2-2-2z" fill="#a14e72"/></svg>
<div class="b" style="left:1233px;top:242px;width:80px;height:44px;background:#ead1dc;border:2px solid #000;box-sizing:border-box;"></div>
<svg class="s" style="left:1251.9px;top:242.9px" width="42" height="42" viewBox="0 0 24 24"><path d="M19 5v14H5V5h14m0-2H5c-1.1 0-2 .9-2 2v14c0 1.1.9 2 2 2h14c1.1 0 2-.9 2-2V5c0-1.1-.9-2-2-2z" fill="#a14e72"/></svg>
<div class="b" style="left:3px;top:288px;width:80px;height:44px;background:#ffe599;border:2px solid #000;box-sizing:border-box;"></div>
<svg class="s" style="left:21.9px;top:288.9px" width="42" height="42" viewBox="0 0 24 24"><path d="M19 3H5c-1.11 0-2 .9-2 2v14c0 1.1.89 2 2 2h14c1.11 0 2-.9 2-2V5c0-1.1-.89-2-2-2zm-9 14l-5-5 1.41-1.41L10 14.17l7.59-7.59L19 8l-9 9z" fill="#9b7600"/></svg>
<div class="b" style="left:85px;top:288px;width:80px;height:44px;background:#ffe599;border:2px solid #000;box-sizing:border-box;"></div>
<svg class="s" style="left:103.9px;top:288.9px" width="42" height="42" viewBox="0 0 24 24"><path d="M19 3H5c-1.11 0-2 .9-2 2v14c0 1.1.89 2 2 2h14c1.11 0 2-.9 2-2V5c0-1.1-.89-2-2-2zm-9 14l-5-5 1.41-1.41L10 14.17l7.59-7.59L19 8l-9 9z" fill="#9b7600"/></svg>
<div class="b" style="left:167px;top:288px;width:80px;height:44px;background:#ffe599;border:2px solid #000;box-sizing:border-box;"></div>
<svg class="s" style="left:185.9px;top:288.9px" width="42" height="42" viewBox="0 0 24 24"><path d="M19 3H5c-1.11 0-2 .9-2 2v14c0 1.1.89 2 2 2h14c1.11 0 2-.9 2-2V5c0-1.1-.89-2-2-2zm-9 14l-5-5 1.41-1.41L10 14.17l7.59-7.59L19 8l-9 9z" fill="#9b7600"/></svg>
<div class="b" style="left:249px;top:288px;width:80px;height:44px;background:#ffe599;border:2px solid #000;box-sizing:border-box;"></div>
<svg class="s" style="left:267.9px;top:288.9px" width="42" height="42" viewBox="0 0 24 24"><path d="M19 5v14H5V5h14m0-2H5c-1.1 0-2 .9-2 2v14c0 1.1.9 2 2 2h14c1.1 0 2-.9 2-2V5c0-1.1-.9-2-2-2z" fill="#9b7600"/></svg>
<div class="b" style="left:331px;top:288px;width:80px;height:44px;background:#d9ead3;border:2px solid #000;box-sizing:border-box;"></div>
<svg class="s" style="left:349.9px;top:288.9px" width="42" height="42" viewBox="0 0 24 24"><path d="M19 3H5c-1.11 0-2 .9-2 2v14c0 1.1.89 2 2 2h14c1.11 0 2-.9 2-2V5c0-1.1-.89-2-2-2zm-9 14l-5-5 1.41-1.41L10 14.17l7.59-7.59L19 8l-9 9z" fill="#4e843c"/></svg>
<div class="b" style="left:413px;top:288px;width:80px;height:44px;background:#d9ead3;border:2px solid #000;box-sizing:border-box;"></div>
<svg class="s" style="left:431.9px;top:288.9px" width="42" height="42" viewBox="0 0 24 24"><path d="M19 5v14H5V5h14m0-2H5c-1.1 0-2 .9-2 2v14c0 1.1.9 2 2 2h14c1.1 0 2-.9 2-2V5c0-1.1-.9-2-2-2z" fill="#4e843c"/></svg>
<div class="b" style="left:495px;top:288px;width:80px;height:44px;background:#d9ead3;border:2px solid #000;box-sizing:border-box;"></div>
<svg class="s" style="left:513.9px;top:288.9px" width="42" height="42" viewBox="0 0 24 24"><path d="M19 5v14H5V5h14m0-2H5c-1.1 0-2 .9-2 2v14c0 1.1.9 2 2 2h14c1.1 0 2-.9 2-2V5c0-1.1-.9-2-2-2z" fill="#4e843c"/></svg>
<div class="b" style="left:577px;top:288px;width:80px;height:44px;background:#d9ead3;border:2px solid #000;box-sizing:border-box;"></div>
<svg class="s" style="left:595.9px;top:288.9px" width="42" height="42" viewBox="0 0 24 24"><path d="M19 5v14H5V5h14m0-2H5c-1.1 0-2 .9-2 2v14c0 1.1.9 2 2 2h14c1.1 0 2-.9 2-2V5c0-1.1-.9-2-2-2z" fill="#4e843c"/></svg>
<div class="b" style="left:659px;top:288px;width:80px;height:44px;background:#d9ead3;border:2px solid #000;box-sizing:border-box;"></div>
<svg class="s" style="left:677.9px;top:288.9px" width="42" height="42" viewBox="0 0 24 24"><path d="M19 5v14H5V5h14m0-2H5c-1.1 0-2 .9-2 2v14c0 1.1.9 2 2 2h14c1.1 0 2-.9 2-2V5c0-1.1-.9-2-2-2z" fill="#4e843c"/></svg>
<div class="b" style="left:741px;top:288px;width:80px;height:44px;background:#d9ead3;border:2px solid #000;box-sizing:border-box;"></div>
<svg class="s" style="left:759.9px;top:288.9px" width="42" height="42" viewBox="0 0 24 24"><path d="M19 5v14H5V5h14m0-2H5c-1.1 0-2 .9-2 2v14c0 1.1.9 2 2 2h14c1.1 0 2-.9 2-2V5c0-1.1-.9-2-2-2z" fill="#4e843c"/></svg>
<div class="b" style="left:823px;top:288px;width:80px;height:44px;background:#d9ead3;border:2px solid #000;box-sizing:border-box;"></div>
<svg class="s" style="left:841.9px;top:288.9px" width="42" height="42" viewBox="0 0 24 24"><path d="M19 5v14H5V5h14m0-2H5c-1.1 0-2 .9-2 2v14c0 1.1.9 2 2 2h14c1.1 0 2-.9 2-2V5c0-1.1-.9-2-2-2z" fill="#4e843c"/></svg>
<div class="b" style="left:905px;top:288px;width:80px;height:44px;background:#ead1dc;border:2px solid #000;box-sizing:border-box;"></div>
<svg class="s" style="left:923.9px;top:288.9px" width="42" height="42" viewBox="0 0 24 24"><path d="M19 5v14H5V5h14m0-2H5c-1.1 0-2 .9-2 2v14c0 1.1.9 2 2 2h14c1.1 0 2-.9 2-2V5c0-1.1-.9-2-2-2z" fill="#a14e72"/></svg>
<div class="b" style="left:987px;top:288px;width:80px;height:44px;background:#ead1dc;border:2px solid #000;box-sizing:border-box;"></div>
<svg class="s" style="left:1005.9px;top:288.9px" width="42" height="42" viewBox="0 0 24 24"><path d="M19 5v14H5V5h14m0-2H5c-1.1 0-2 .9-2 2v14c0 1.1.9 2 2 2h14c1.1 0 2-.9 2-2V5c0-1.1-.9-2-2-2z" fill="#a14e72"/></svg>
<div class="b" style="left:1069px;top:288px;width:80px;height:44px;background:#ead1dc;border:2px solid #000;box-sizing:border-box;"></div>
<svg class="s" style="left:1087.9px;top:288.9px" width="42" height="42" viewBox="0 0 24 24"><path d="M19 5v14H5V5h14m0-2H5c-1.1 0-2 .9-2 2v14c0 1.1.9 2 2 2h14c1.1 0 2-.9 2-2V5c0-1.1-.9-2-2-2z" fill="#a14e72"/></svg>
<div class="b" style="left:1151px;top:288px;width:80px;height:44px;background:#ead1dc;border:2px solid #000;box-sizing:border-box;"></div>
<svg class="s" style="left:1169.9px;top:288.9px" width="42" height="42" viewBox="0 0 24 24"><path d="M19 5v14H5V5h14m0-2H5c-1.1 0-2 .9-2 2v14c0 1.1.9 2 2 2h14c1.1 0 2-.9 2-2V5c0-1.1-.9-2-2-2z" fill="#a14e72"/></svg>
<div class="b" style="left:1233px;top:288px;width:80px;height:44px;background:#ead1dc;border:2px solid #000;box-sizing:border-box;"></div>
<svg class="s" style="left:1251.9px;top:288.9px" width="42" height="42" viewBox="0 0 24 24"><path d="M19 5v14H5V5h14m0-2H5c-1.1 0-2 .9-2 2v14c0 1.1.9 2 2 2h14c1.1 0 2-.9 2-2V5c0-1.1-.9-2-2-2z" fill="#a14e72"/></svg>
<div class="b" style="left:3px;top:334px;width:80px;height:44px;background:#ffe599;border:2px solid #000;box-sizing:border-box;"></div>
<svg class="s" style="left:21.9px;top:334.9px" width="42" height="42" viewBox="0 0 24 24"><path d="M19 5v14H5V5h14m0-2H5c-1.1 0-2 .9-2 2v14c0 1.1.9 2 2 2h14c1.1 0 2-.9 2-2V5c0-1.1-.9-2-2-2z" fill="#9b7600"/></svg>
<div class="b" style="left:85px;top:334px;width:80px;height:44px;background:#ffe599;border:2px solid #000;box-sizing:border-box;"></div>
<svg class="s" style="left:103.9px;top:334.9px" width="42" height="42" viewBox="0 0 24 24"><path d="M19 5v14H5V5h14m0-2H5c-1.1 0-2 .9-2 2v14c0 1.1.9 2 2 2h14c1.1 0 2-.9 2-2V5c0-1.1-.9-2-2-2z" fill="#9b7600"/></svg>
<div class="b" style="left:167px;top:334px;width:80px;height:44px;background:#ffe599;border:2px solid #000;box-sizing:border-box;"></div>
<svg class="s" style="left:185.9px;top:334.9px" width="42" height="42" viewBox="0 0 24 24"><path d="M19 5v14H5V5h14m0-2H5c-1.1 0-2 .9-2 2v14c0 1.1.9 2 2 2h14c1.1 0 2-.9 2-2V5c0-1.1-.9-2-2-2z" fill="#9b7600"/></svg>
<div class="b" style="left:249px;top:334px;width:80px;height:44px;background:#ffe599;border:2px solid #000;box-sizing:border-box;"></div>
<svg class="s" style="left:267.9px;top:334.9px" width="42" height="42" viewBox="0 0 24 24"><path d="M19 5v14H5V5h14m0-2H5c-1.1 0-2 .9-2 2v14c0 1.1.9 2 2 2h14c1.1 0 2-.9 2-2V5c0-1.1-.9-2-2-2z" fill="#9b7600"/></svg>
<div class="b" style="left:331px;top:334px;width:80px;height:44px;background:#d9ead3;border:2px solid #000;box-sizing:border-box;"></div>
<svg class="s" style="left:349.9px;top:334.9px" width="42" height="42" viewBox="0 0 24 24"><path d="M19 5v14H5V5h14m0-2H5c-1.1 0-2 .9-2 2v14c0 1.1.9 2 2 2h14c1.1 0 2-.9 2-2V5c0-1.1-.9-2-2-2z" fill="#4e843c"/></svg>
<div class="b" style="left:413px;top:334px;width:80px;height:44px;background:#d9ead3;border:2px solid #000;box-sizing:border-box;"></div>
<svg class="s" style="left:431.9px;top:334.9px" width="42" height="42" viewBox="0 0 24 24"><path d="M19 5v14H5V5h14m0-2H5c-1.1 0-2 .9-2 2v14c0 1.1.9 2 2 2h14c1.1 0 2-.9 2-2V5c0-1.1-.9-2-2-2z" fill="#4e843c"/></svg>
<div class="b" style="left:495px;top:334px;width:80px;height:44px;background:#d9ead3;border:2px solid #000;box-sizing:border-box;"></div>
<svg class="s" style="left:513.9px;top:334.9px" width="42" height="42" viewBox="0 0 24 24"><path d="M19 5v14H5V5h14m0-2H5c-1.1 0-2 .9-2 2v14c0 1.1.9 2 2 2h14c1.1 0 2-.9 2-2V5c0-1.1-.9-2-2-2z" fill="#4e843c"/></svg>
<div class="b" style="left:577px;top:334px;width:80px;height:44px;background:#d9ead3;border:2px solid #000;box-sizing:border-box;"></div>
<svg class="s" style="left:595.9px;top:334.9px" width="42" height="42" viewBox="0 0 24 24"><path d="M19 5v14H5V5h14m0-2H5c-1.1 0-2 .9-2 2v14c0 1.1.9 2 2 2h14c1.1 0 2-.9 2-2V5c0-1.1-.9-2-2-2z" fill="#4e843c"/></svg>
<div class="b" style="left:659px;top:334px;width:80px;height:44px;background:#d9ead3;border:2px solid #000;box-sizing:border-box;"></div>
<svg class="s" style="left:677.9px;top:334.9px" width="42" height="42" viewBox="0 0 24 24"><path d="M19 5v14H5V5h14m0-2H5c-1.1 0-2 .9-2 2v14c0 1.1.9 2 2 2h14c1.1 0 2-.9 2-2V5c0-1.1-.9-2-2-2z" fill="#4e843c"/></svg>
<div class="b" style="left:741px;top:334px;width:80px;height:44px;background:#d9ead3;border:2px solid #000;box-sizing:border-box;"></div>
<svg class="s" style="left:759.9px;top:334.9px" width="42" height="42" viewBox="0 0 24 24"><path d="M19 5v14H5V5h14m0-2H5c-1.1 0-2 .9-2 2v14c0 1.1.9 2 2 2h14c1.1 0 2-.9 2-2V5c0-1.1-.9-2-2-2z" fill="#4e843c"/></svg>
<div class="b" style="left:823px;top:334px;width:80px;height:44px;background:#d9ead3;border:2px solid #000;box-sizing:border-box;"></div>
<svg class="s" style="left:841.9px;top:334.9px" width="42" height="42" viewBox="0 0 24 24"><path d="M19 5v14H5V5h14m0-2H5c-1.1 0-2 .9-2 2v14c0 1.1.9 2 2 2h14c1.1 0 2-.9 2-2V5c0-1.1-.9-2-2-2z" fill="#4e843c"/></svg>
<div class="b" style="left:905px;top:334px;width:80px;height:44px;background:#ead1dc;border:2px solid #000;box-sizing:border-box;"></div>
<svg class="s" style="left:923.9px;top:334.9px" width="42" height="42" viewBox="0 0 24 24"><path d="M19 5v14H5V5h14m0-2H5c-1.1 0-2 .9-2 2v14c0 1.1.9 2 2 2h14c1.1 0 2-.9 2-2V5c0-1.1-.9-2-2-2z" fill="#a14e72"/></svg>
<div class="b" style="left:987px;top:334px;width:80px;height:44px;background:#ead1dc;border:2px solid #000;box-sizing:border-box;"></div>
<svg class="s" style="left:1005.9px;top:334.9px" width="42" height="42" viewBox="0 0 24 24"><path d="M19 5v14H5V5h14m0-2H5c-1.1 0-2 .9-2 2v14c0 1.1.9 2 2 2h14c1.1 0 2-.9 2-2V5c0-1.1-.9-2-2-2z" fill="#a14e72"/></svg>
<div class="b" style="left:1069px;top:334px;width:80px;height:44px;background:#ead1dc;border:2px solid #000;box-sizing:border-box;"></div>
<svg class="s" style="left:1087.9px;top:334.9px" width="42" height="42" viewBox="0 0 24 24"><path d="M19 5v14H5V5h14m0-2H5c-1.1 0-2 .9-2 2v14c0 1.1.9 2 2 2h14c1.1 0 2-.9 2-2V5c0-1.1-.9-2-2-2z" fill="#a14e72"/></svg>
<div class="b" style="left:1151px;top:334px;width:80px;height:44px;background:#ead1dc;border:2px solid #000;box-sizing:border-box;"></div>
<svg class="s" style="left:1169.9px;top:334.9px" width="42" height="42" viewBox="0 0 24 24"><path d="M19 5v14H5V5h14m0-2H5c-1.1 0-2 .9-2 2v14c0 1.1.9 2 2 2h14c1.1 0 2-.9 2-2V5c0-1.1-.9-2-2-2z" fill="#a14e72"/></svg>
<div class="b" style="left:1233px;top:334px;width:80px;height:44px;background:#ead1dc;border:2px solid #000;box-sizing:border-box;"></div>
<svg class="s" style="left:1251.9px;top:334.9px" width="42" height="42" viewBox="0 0 24 24"><path d="M19 5v14H5V5h14m0-2H5c-1.1 0-2 .9-2 2v14c0 1.1.9 2 2 2h14c1.1 0 2-.9 2-2V5c0-1.1-.9-2-2-2z" fill="#a14e72"/></svg>
<div class="b" style="left:3px;top:380px;width:80px;height:44px;background:#ffe599;border:2px solid #000;box-sizing:border-box;"></div>
<svg class="s" style="left:21.9px;top:380.9px" width="42" height="42" viewBox="0 0 24 24"><path d="M19 5v14H5V5h14m0-2H5c-1.1 0-2 .9-2 2v14c0 1.1.9 2 2 2h14c1.1 0 2-.9 2-2V5c0-1.1-.9-2-2-2z" fill="#9b7600"/></svg>
<div class="b" style="left:85px;top:380px;width:80px;height:44px;background:#ffe599;border:2px solid #000;box-sizing:border-box;"></div>
<svg class="s" style="left:103.9px;top:380.9px" width="42" height="42" viewBox="0 0 24 24"><path d="M19 5v14H5V5h14m0-2H5c-1.1 0-2 .9-2 2v14c0 1.1.9 2 2 2h14c1.1 0 2-.9 2-2V5c0-1.1-.9-2-2-2z" fill="#9b7600"/></svg>
<div class="b" style="left:167px;top:380px;width:80px;height:44px;background:#ffe599;border:2px solid #000;box-sizing:border-box;"></div>
<svg class="s" style="left:185.9px;top:380.9px" width="42" height="42" viewBox="0 0 24 24"><path d="M19 5v14H5V5h14m0-2H5c-1.1 0-2 .9-2 2v14c0 1.1.9 2 2 2h14c1.1 0 2-.9 2-2V5c0-1.1-.9-2-2-2z" fill="#9b7600"/></svg>
<div class="b" style="left:249px;top:380px;width:80px;height:44px;background:#ffe599;border:2px solid #000;box-sizing:border-box;"></div>
<svg class="s" style="left:267.9px;top:380.9px" width="42" height="42" viewBox="0 0 24 24"><path d="M19 5v14H5V5h14m0-2H5c-1.1 0-2 .9-2 2v14c0 1.1.9 2 2 2h14c1.1 0 2-.9 2-2V5c0-1.1-.9-2-2-2z" fill="#9b7600"/></svg>
<div class="b" style="left:331px;top:380px;width:80px;height:44px;background:#d9ead3;border:2px solid #000;box-sizing:border-box;"></div>
<svg class="s" style="left:349.9px;top:380.9px" width="42" height="42" viewBox="0 0 24 24"><path d="M19 3H5c-1.11 0-2 .9-2 2v14c0 1.1.89 2 2 2h14c1.11 0 2-.9 2-2V5c0-1.1-.89-2-2-2zm-9 14l-5-5 1.41-1.41L10 14.17l7.59-7.59L19 8l-9 9z" fill="#4e843c"/></svg>
<div class="b" style="left:413px;top:380px;width:80px;height:44px;background:#d9ead3;border:2px solid #000;box-sizing:border-box;"></div>
<svg class="s" style="left:431.9px;top:380.9px" width="42" height="42" viewBox="0 0 24 24"><path d="M19 5v14H5V5h14m0-2H5c-1.1 0-2 .9-2 2v14c0 1.1.9 2 2 2h14c1.1 0 2-.9 2-2V5c0-1.1-.9-2-2-2z" fill="#4e843c"/></svg>
<div class="b" style="left:495px;top:380px;width:80px;height:44px;background:#d9ead3;border:2px solid #000;box-sizing:border-box;"></div>
<svg class="s" style="left:513.9px;top:380.9px" width="42" height="42" viewBox="0 0 24 24"><path d="M19 5v14H5V5h14m0-2H5c-1.1 0-2 .9-2 2v14c0 1.1.9 2 2 2h14c1.1 0 2-.9 2-2V5c0-1.1-.9-2-2-2z" fill="#4e843c"/></svg>
<div class="b" style="left:577px;top:380px;width:80px;height:44px;background:#d9ead3;border:2px solid #000;box-sizing:border-box;"></div>
<svg class="s" style="left:595.9px;top:380.9px" width="42" height="42" viewBox="0 0 24 24"><path d="M19 5v14H5V5h14m0-2H5c-1.1 0-2 .9-2 2v14c0 1.1.9 2 2 2h14c1.1 0 2-.9 2-2V5c0-1.1-.9-2-2-2z" fill="#4e843c"/></svg>
<div class="b" style="left:659px;top:380px;width:80px;height:44px;background:#d9ead3;border:2px solid #000;box-sizing:border-box;"></div>
<svg class="s" style="left:677.9px;top:380.9px" width="42" height="42" viewBox="0 0 24 24"><path d="M19 5v14H5V5h14m0-2H5c-1.1 0-2 .9-2 2v14c0 1.1.9 2 2 2h14c1.1 0 2-.9 2-2V5c0-1.1-.9-2-2-2z" fill="#4e843c"/></svg>
<div class="b" style="left:741px;top:380px;width:80px;height:44px;background:#d9ead3;border:2px solid #000;box-sizing:border-box;"></div>
<svg class="s" style="left:759.9px;top:380.9px" width="42" height="42" viewBox="0 0 24 24"><path d="M19 5v14H5V5h14m0-2H5c-1.1 0-2 .9-2 2v14c0 1.1.9 2 2 2h14c1.1 0 2-.9 2-2V5c0-1.1-.9-2-2-2z" fill="#4e843c"/></svg>
<div class="b" style="left:823px;top:380px;width:80px;height:44px;background:#d9ead3;border:2px solid #000;box-sizing:border-box;"></div>
<svg class="s" style="left:841.9px;top:380.9px" width="42" height="42" viewBox="0 0 24 24"><path d="M19 5v14H5V5h14m0-2H5c-1.1 0-2 .9-2 2v14c0 1.1.9 2 2 2h14c1.1 0 2-.9 2-2V5c0-1.1-.9-2-2-2z" fill="#4e843c"/></svg>
<div class="b" style="left:905px;top:380px;width:80px;height:44px;background:#ead1dc;border:2px solid #000;box-sizing:border-box;"></div>
<svg class="s" style="left:923.9px;top:380.9px" width="42" height="42" viewBox="0 0 24 24"><path d="M19 5v14H5V5h14m0-2H5c-1.1 0-2 .9-2 2v14c0 1.1.9 2 2 2h14c1.1 0 2-.9 2-2V5c0-1.1-.9-2-2-2z" fill="#a14e72"/></svg>
<div class="b" style="left:987px;top:380px;width:80px;height:44px;background:#ead1dc;border:2px solid #000;box-sizing:border-box;"></div>
<svg class="s" style="left:1005.9px;top:380.9px" width="42" height="42" viewBox="0 0 24 24"><path d="M19 5v14H5V5h14m0-2H5c-1.1 0-2 .9-2 2v14c0 1.1.9 2 2 2h14c1.1 0 2-.9 2-2V5c0-1.1-.9-2-2-2z" fill="#a14e72"/></svg>
<div class="b" style="left:1069px;top:380px;width:80px;height:44px;background:#ead1dc;border:2px solid #000;box-sizing:border-box;"></div>
<svg class="s" style="left:1087.9px;top:380.9px" width="42" height="42" viewBox="0 0 24 24"><path d="M19 5v14H5V5h14m0-2H5c-1.1 0-2 .9-2 2v14c0 1.1.9 2 2 2h14c1.1 0 2-.9 2-2V5c0-1.1-.9-2-2-2z" fill="#a14e72"/></svg>
<div class="b" style="left:1151px;top:380px;width:80px;height:44px;background:#ead1dc;border:2px solid #000;box-sizing:border-box;"></div>
<svg class="s" style="left:1169.9px;top:380.9px" width="42" height="42" viewBox="0 0 24 24"><path d="M19 5v14H5V5h14m0-2H5c-1.1 0-2 .9-2 2v14c0 1.1.9 2 2 2h14c1.1 0 2-.9 2-2V5c0-1.1-.9-2-2-2z" fill="#a14e72"/></svg>
<div class="b" style="left:1233px;top:380px;width:80px;height:44px;background:#ead1dc;border:2px solid #000;box-sizing:border-box;"></div>
<svg class="s" style="left:1251.9px;top:380.9px" width="42" height="42" viewBox="0 0 24 24"><path d="M19 5v14H5V5h14m0-2H5c-1.1 0-2 .9-2 2v14c0 1.1.9 2 2 2h14c1.1 0 2-.9 2-2V5c0-1.1-.9-2-2-2z" fill="#a14e72"/></svg>
<div class="b" style="left:3px;top:426px;width:80px;height:44px;background:#ffe599;border:2px solid #000;box-sizing:border-box;"></div>
<svg class="s" style="left:21.9px;top:426.9px" width="42" height="42" viewBox="0 0 24 24"><path d="M19 5v14H5V5h14m0-2H5c-1.1 0-2 .9-2 2v14c0 1.1.9 2 2 2h14c1.1 0 2-.9 2-2V5c0-1.1-.9-2-2-2z" fill="#9b7600"/></svg>
<div class="b" style="left:85px;top:426px;width:80px;height:44px;background:#ffe599;border:2px solid #000;box-sizing:border-box;"></div>
<svg class="s" style="left:103.9px;top:426.9px" width="42" height="42" viewBox="0 0 24 24"><path d="M19 3H5c-1.11 0-2 .9-2 2v14c0 1.1.89 2 2 2h14c1.11 0 2-.9 2-2V5c0-1.1-.89-2-2-2zm-9 14l-5-5 1.41-1.41L10 14.17l7.59-7.59L19 8l-9 9z" fill="#9b7600"/></svg>
<div class="b" style="left:167px;top:426px;width:80px;height:44px;background:#ffe599;border:2px solid #000;box-sizing:border-box;"></div>
<svg class="s" style="left:185.9px;top:426.9px" width="42" height="42" viewBox="0 0 24 24"><path d="M19 5v14H5V5h14m0-2H5c-1.1 0-2 .9-2 2v14c0 1.1.9 2 2 2h14c1.1 0 2-.9 2-2V5c0-1.1-.9-2-2-2z" fill="#9b7600"/></svg>
<div class="b" style="left:249px;top:426px;width:80px;height:44px;background:#ffe599;border:2px solid #000;box-sizing:border-box;"></div>
<svg class="s" style="left:267.9px;top:426.9px" width="42" height="42" viewBox="0 0 24 24"><path d="M19 3H5c-1.11 0-2 .9-2 2v14c0 1.1.89 2 2 2h14c1.11 0 2-.9 2-2V5c0-1.1-.89-2-2-2zm-9 14l-5-5 1.41-1.41L10 14.17l7.59-7.59L19 8l-9 9z" fill="#9b7600"/></svg>
<div class="b" style="left:331px;top:426px;width:80px;height:44px;background:#d9ead3;border:2px solid #000;box-sizing:border-box;"></div>
<svg class="s" style="left:349.9px;top:426.9px" width="42" height="42" viewBox="0 0 24 24"><path d="M19 3H5c-1.11 0-2 .9-2 2v14c0 1.1.89 2 2 2h14c1.11 0 2-.9 2-2V5c0-1.1-.89-2-2-2zm-9 14l-5-5 1.41-1.41L10 14.17l7.59-7.59L19 8l-9 9z" fill="#4e843c"/></svg>
<div class="b" style="left:413px;top:426px;width:80px;height:44px;background:#d9ead3;border:2px solid #000;box-sizing:border-box;"></div>
<svg class="s" style="left:431.9px;top:426.9px" width="42" height="42" viewBox="0 0 24 24"><path d="M19 5v14H5V5h14m0-2H5c-1.1 0-2 .9-2 2v14c0 1.1.9 2 2 2h14c1.1 0 2-.9 2-2V5c0-1.1-.9-2-2-2z" fill="#4e843c"/></svg>
<div class="b" style="left:495px;top:426px;width:80px;height:44px;background:#d9ead3;border:2px solid #000;box-sizing:border-box;"></div>
<svg class="s" style="left:513.9px;top:426.9px" width="42" height="42" viewBox="0 0 24 24"><path d="M19 5v14H5V5h14m0-2H5c-1.1 0-2 .9-2 2v14c0 1.1.9 2 2 2h14c1.1 0 2-.9 2-2V5c0-1.1-.9-2-2-2z" fill="#4e843c"/></svg>
<div class="b" style="left:577px;top:426px;width:80px;height:44px;background:#d9ead3;border:2px solid #000;box-sizing:border-box;"></div>
<svg class="s" style="left:595.9px;top:426.9px" width="42" height="42" viewBox="0 0 24 24"><path d="M19 5v14H5V5h14m0-2H5c-1.1 0-2 .9-2 2v14c0 1.1.9 2 2 2h14c1.1 0 2-.9 2-2V5c0-1.1-.9-2-2-2z" fill="#4e843c"/></svg>
<div class="b" style="left:659px;top:426px;width:80px;height:44px;background:#d9ead3;border:2px solid #000;box-sizing:border-box;"></div>
<svg class="s" style="left:677.9px;top:426.9px" width="42" height="42" viewBox="0 0 24 24"><path d="M19 5v14H5V5h14m0-2H5c-1.1 0-2 .9-2 2v14c0 1.1.9 2 2 2h14c1.1 0 2-.9 2-2V5c0-1.1-.9-2-2-2z" fill="#4e843c"/></svg>
<div class="b" style="left:741px;top:426px;width:80px;height:44px;background:#d9ead3;border:2px solid #000;box-sizing:border-box;"></div>
<svg class="s" style="left:759.9px;top:426.9px" width="42" height="42" viewBox="0 0 24 24"><path d="M19 5v14H5V5h14m0-2H5c-1.1 0-2 .9-2 2v14c0 1.1.9 2 2 2h14c1.1 0 2-.9 2-2V5c0-1.1-.9-2-2-2z" fill="#4e843c"/></svg>
<div class="b" style="left:823px;top:426px;width:80px;height:44px;background:#d9ead3;border:2px solid #000;box-sizing:border-box;"></div>
<svg class="s" style="left:841.9px;top:426.9px" width="42" height="42" viewBox="0 0 24 24"><path d="M19 5v14H5V5h14m0-2H5c-1.1 0-2 .9-2 2v14c0 1.1.9 2 2 2h14c1.1 0 2-.9 2-2V5c0-1.1-.9-2-2-2z" fill="#4e843c"/></svg>
<div class="b" style="left:905px;top:426px;width:80px;height:44px;background:#ead1dc;border:2px solid #000;box-sizing:border-box;"></div>
<svg class="s" style="left:923.9px;top:426.9px" width="42" height="42" viewBox="0 0 24 24"><path d="M19 5v14H5V5h14m0-2H5c-1.1 0-2 .9-2 2v14c0 1.1.9 2 2 2h14c1.1 0 2-.9 2-2V5c0-1.1-.9-2-2-2z" fill="#a14e72"/></svg>
<div class="b" style="left:987px;top:426px;width:80px;height:44px;background:#ead1dc;border:2px solid #000;box-sizing:border-box;"></div>
<svg class="s" style="left:1005.9px;top:426.9px" width="42" height="42" viewBox="0 0 24 24"><path d="M19 5v14H5V5h14m0-2H5c-1.1 0-2 .9-2 2v14c0 1.1.9 2 2 2h14c1.1 0 2-.9 2-2V5c0-1.1-.9-2-2-2z" fill="#a14e72"/></svg>
<div class="b" style="left:1069px;top:426px;width:80px;height:44px;background:#ead1dc;border:2px solid #000;box-sizing:border-box;"></div>
<svg class="s" style="left:1087.9px;top:426.9px" width="42" height="42" viewBox="0 0 24 24"><path d="M19 5v14H5V5h14m0-2H5c-1.1 0-2 .9-2 2v14c0 1.1.9 2 2 2h14c1.1 0 2-.9 2-2V5c0-1.1-.9-2-2-2z" fill="#a14e72"/></svg>
<div class="b" style="left:1151px;top:426px;width:80px;height:44px;background:#ead1dc;border:2px solid #000;box-sizing:border-box;"></div>
<svg class="s" style="left:1169.9px;top:426.9px" width="42" height="42" viewBox="0 0 24 24"><path d="M19 5v14H5V5h14m0-2H5c-1.1 0-2 .9-2 2v14c0 1.1.9 2 2 2h14c1.1 0 2-.9 2-2V5c0-1.1-.9-2-2-2z" fill="#a14e72"/></svg>
<div class="b" style="left:1233px;top:426px;width:80px;height:44px;background:#ead1dc;border:2px solid #000;box-sizing:border-box;"></div>
<svg class="s" style="left:1251.9px;top:426.9px" width="42" height="42" viewBox="0 0 24 24"><path d="M19 5v14H5V5h14m0-2H5c-1.1 0-2 .9-2 2v14c0 1.1.9 2 2 2h14c1.1 0 2-.9 2-2V5c0-1.1-.9-2-2-2z" fill="#a14e72"/></svg>
<div class="b" style="left:3px;top:472px;width:80px;height:44px;background:#ffe599;border:2px solid #000;box-sizing:border-box;"></div>
<svg class="s" style="left:21.9px;top:472.9px" width="42" height="42" viewBox="0 0 24 24"><path d="M19 5v14H5V5h14m0-2H5c-1.1 0-2 .9-2 2v14c0 1.1.9 2 2 2h14c1.1 0 2-.9 2-2V5c0-1.1-.9-2-2-2z" fill="#9b7600"/></svg>
<div class="b" style="left:85px;top:472px;width:80px;height:44px;background:#ffe599;border:2px solid #000;box-sizing:border-box;"></div>
<svg class="s" style="left:103.9px;top:472.9px" width="42" height="42" viewBox="0 0 24 24"><path d="M19 3H5c-1.11 0-2 .9-2 2v14c0 1.1.89 2 2 2h14c1.11 0 2-.9 2-2V5c0-1.1-.89-2-2-2zm-9 14l-5-5 1.41-1.41L10 14.17l7.59-7.59L19 8l-9 9z" fill="#9b7600"/></svg>
<div class="b" style="left:167px;top:472px;width:80px;height:44px;background:#ffe599;border:2px solid #000;box-sizing:border-box;"></div>
<svg class="s" style="left:185.9px;top:472.9px" width="42" height="42" viewBox="0 0 24 24"><path d="M19 5v14H5V5h14m0-2H5c-1.1 0-2 .9-2 2v14c0 1.1.9 2 2 2h14c1.1 0 2-.9 2-2V5c0-1.1-.9-2-2-2z" fill="#9b7600"/></svg>
<div class="b" style="left:249px;top:472px;width:80px;height:44px;background:#ffe599;border:2px solid #000;box-sizing:border-box;"></div>
<svg class="s" style="left:267.9px;top:472.9px" width="42" height="42" viewBox="0 0 24 24"><path d="M19 3H5c-1.11 0-2 .9-2 2v14c0 1.1.89 2 2 2h14c1.11 0 2-.9 2-2V5c0-1.1-.89-2-2-2zm-9 14l-5-5 1.41-1.41L10 14.17l7.59-7.59L19 8l-9 9z" fill="#9b7600"/></svg>
<div class="b" style="left:331px;top:472px;width:80px;height:44px;background:#d9ead3;border:2px solid #000;box-sizing:border-box;"></div>
<svg class="s" style="left:349.9px;top:472.9px" width="42" height="42" viewBox="0 0 24 24"><path d="M19 3H5c-1.11 0-2 .9-2 2v14c0 1.1.89 2 2 2h14c1.11 0 2-.9 2-2V5c0-1.1-.89-2-2-2zm-9 14l-5-5 1.41-1.41L10 14.17l7.59-7.59L19 8l-9 9z" fill="#4e843c"/></svg>
<div class="b" style="left:413px;top:472px;width:80px;height:44px;background:#d9ead3;border:2px solid #000;box-sizing:border-box;"></div>
<svg class="s" style="left:431.9px;top:472.9px" width="42" height="42" viewBox="0 0 24 24"><path d="M19 5v14H5V5h14m0-2H5c-1.1 0-2 .9-2 2v14c0 1.1.9 2 2 2h14c1.1 0 2-.9 2-2V5c0-1.1-.9-2-2-2z" fill="#4e843c"/></svg>
<div class="b" style="left:495px;top:472px;width:80px;height:44px;background:#d9ead3;border:2px solid #000;box-sizing:border-box;"></div>
<svg class="s" style="left:513.9px;top:472.9px" width="42" height="42" viewBox="0 0 24 24"><path d="M19 5v14H5V5h14m0-2H5c-1.1 0-2 .9-2 2v14c0 1.1.9 2 2 2h14c1.1 0 2-.9 2-2V5c0-1.1-.9-2-2-2z" fill="#4e843c"/></svg>
<div class="b" style="left:577px;top:472px;width:80px;height:44px;background:#d9ead3;border:2px solid #000;box-sizing:border-box;"></div>
<svg class="s" style="left:595.9px;top:472.9px" width="42" height="42" viewBox="0 0 24 24"><path d="M19 5v14H5V5h14m0-2H5c-1.1 0-2 .9-2 2v14c0 1.1.9 2 2 2h14c1.1 0 2-.9 2-2V5c0-1.1-.9-2-2-2z" fill="#4e843c"/></svg>
<div class="b" style="left:659px;top:472px;width:80px;height:44px;background:#d9ead3;border:2px solid #000;box-sizing:border-box;"></div>
<svg class="s" style="left:677.9px;top:472.9px" width="42" height="42" viewBox="0 0 24 24"><path d="M19 5v14H5V5h14m0-2H5c-1.1 0-2 .9-2 2v14c0 1.1.9 2 2 2h14c1.1 0 2-.9 2-2V5c0-1.1-.9-2-2-2z" fill="#4e843c"/></svg>
<div class="b" style="left:741px;top:472px;width:80px;height:44px;background:#d9ead3;border:2px solid #000;box-sizing:border-box;"></div>
<svg class="s" style="left:759.9px;top:472.9px" width="42" height="42" viewBox="0 0 24 24"><path d="M19 5v14H5V5h14m0-2H5c-1.1 0-2 .9-2 2v14c0 1.1.9 2 2 2h14c1.1 0 2-.9 2-2V5c0-1.1-.9-2-2-2z" fill="#4e843c"/></svg>
<div class="b" style="left:823px;top:472px;width:80px;height:44px;background:#d9ead3;border:2px solid #000;box-sizing:border-box;"></div>
<svg class="s" style="left:841.9px;top:472.9px" width="42" height="42" viewBox="0 0 24 24"><path d="M19 5v14H5V5h14m0-2H5c-1.1 0-2 .9-2 2v14c0 1.1.9 2 2 2h14c1.1 0 2-.9 2-2V5c0-1.1-.9-2-2-2z" fill="#4e843c"/></svg>
<div class="b" style="left:905px;top:472px;width:80px;height:44px;background:#ead1dc;border:2px solid #000;box-sizing:border-box;"></div>
<svg class="s" style="left:923.9px;top:472.9px" width="42" height="42" viewBox="0 0 24 24"><path d="M19 5v14H5V5h14m0-2H5c-1.1 0-2 .9-2 2v14c0 1.1.9 2 2 2h14c1.1 0 2-.9 2-2V5c0-1.1-.9-2-2-2z" fill="#a14e72"/></svg>
<div class="b" style="left:987px;top:472px;width:80px;height:44px;background:#ead1dc;border:2px solid #000;box-sizing:border-box;"></div>
<svg class="s" style="left:1005.9px;top:472.9px" width="42" height="42" viewBox="0 0 24 24"><path d="M19 5v14H5V5h14m0-2H5c-1.1 0-2 .9-2 2v14c0 1.1.9 2 2 2h14c1.1 0 2-.9 2-2V5c0-1.1-.9-2-2-2z" fill="#a14e72"/></svg>
<div class="b" style="left:1069px;top:472px;width:80px;height:44px;background:#ead1dc;border:2px solid #000;box-sizing:border-box;"></div>
<svg class="s" style="left:1087.9px;top:472.9px" width="42" height="42" viewBox="0 0 24 24"><path d="M19 5v14H5V5h14m0-2H5c-1.1 0-2 .9-2 2v14c0 1.1.9 2 2 2h14c1.1 0 2-.9 2-2V5c0-1.1-.9-2-2-2z" fill="#a14e72"/></svg>
<div class="b" style="left:1151px;top:472px;width:80px;height:44px;background:#ead1dc;border:2px solid #000;box-sizing:border-box;"></div>
<svg class="s" style="left:1169.9px;top:472.9px" width="42" height="42" viewBox="0 0 24 24"><path d="M19 5v14H5V5h14m0-2H5c-1.1 0-2 .9-2 2v14c0 1.1.9 2 2 2h14c1.1 0 2-.9 2-2V5c0-1.1-.9-2-2-2z" fill="#a14e72"/></svg>
<div class="b" style="left:1233px;top:472px;width:80px;height:44px;background:#ead1dc;border:2px solid #000;box-sizing:border-box;"></div>
<svg class="s" style="left:1251.9px;top:472.9px" width="42" height="42" viewBox="0 0 24 24"><path d="M19 5v14H5V5h14m0-2H5c-1.1 0-2 .9-2 2v14c0 1.1.9 2 2 2h14c1.1 0 2-.9 2-2V5c0-1.1-.9-2-2-2z" fill="#a14e72"/></svg>
<div class="b" style="left:3px;top:518px;width:80px;height:44px;background:#ffe599;border:2px solid #000;box-sizing:border-box;"></div>
<svg class="s" style="left:21.9px;top:518.9px" width="42" height="42" viewBox="0 0 24 24"><path d="M19 3H5c-1.11 0-2 .9-2 2v14c0 1.1.89 2 2 2h14c1.11 0 2-.9 2-2V5c0-1.1-.89-2-2-2zm-9 14l-5-5 1.41-1.41L10 14.17l7.59-7.59L19 8l-9 9z" fill="#9b7600"/></svg>
<div class="b" style="left:85px;top:518px;width:80px;height:44px;background:#ffe599;border:2px solid #000;box-sizing:border-box;"></div>
<svg class="s" style="left:103.9px;top:518.9px" width="42" height="42" viewBox="0 0 24 24"><path d="M19 5v14H5V5h14m0-2H5c-1.1 0-2 .9-2 2v14c0 1.1.9 2 2 2h14c1.1 0 2-.9 2-2V5c0-1.1-.9-2-2-2z" fill="#9b7600"/></svg>
<div class="b" style="left:167px;top:518px;width:80px;height:44px;background:#ffe599;border:2px solid #000;box-sizing:border-box;"></div>
<svg class="s" style="left:185.9px;top:518.9px" width="42" height="42" viewBox="0 0 24 24"><path d="M19 5v14H5V5h14m0-2H5c-1.1 0-2 .9-2 2v14c0 1.1.9 2 2 2h14c1.1 0 2-.9 2-2V5c0-1.1-.9-2-2-2z" fill="#9b7600"/></svg>
<div class="b" style="left:249px;top:518px;width:80px;height:44px;background:#ffe599;border:2px solid #000;box-sizing:border-box;"></div>
<svg class="s" style="left:267.9px;top:518.9px" width="42" height="42" viewBox="0 0 24 24"><path d="M19 5v14H5V5h14m0-2H5c-1.1 0-2 .9-2 2v14c0 1.1.9 2 2 2h14c1.1 0 2-.9 2-2V5c0-1.1-.9-2-2-2z" fill="#9b7600"/></svg>
<div class="b" style="left:331px;top:518px;width:80px;height:44px;background:#d9ead3;border:2px solid #000;box-sizing:border-box;"></div>
<svg class="s" style="left:349.9px;top:518.9px" width="42" height="42" viewBox="0 0 24 24"><path d="M19 5v14H5V5h14m0-2H5c-1.1 0-2 .9-2 2v14c0 1.1.9 2 2 2h14c1.1 0 2-.9 2-2V5c0-1.1-.9-2-2-2z" fill="#4e843c"/></svg>
<div class="b" style="left:413px;top:518px;width:80px;height:44px;background:#d9ead3;border:2px solid #000;box-sizing:border-box;"></div>
<svg class="s" style="left:431.9px;top:518.9px" width="42" height="42" viewBox="0 0 24 24"><path d="M19 5v14H5V5h14m0-2H5c-1.1 0-2 .9-2 2v14c0 1.1.9 2 2 2h14c1.1 0 2-.9 2-2V5c0-1.1-.9-2-2-2z" fill="#4e843c"/></svg>
<div class="b" style="left:495px;top:518px;width:80px;height:44px;background:#d9ead3;border:2px solid #000;box-sizing:border-box;"></div>
<svg class="s" style="left:513.9px;top:518.9px" width="42" height="42" viewBox="0 0 24 24"><path d="M19 5v14H5V5h14m0-2H5c-1.1 0-2 .9-2 2v14c0 1.1.9 2 2 2h14c1.1 0 2-.9 2-2V5c0-1.1-.9-2-2-2z" fill="#4e843c"/></svg>
<div class="b" style="left:577px;top:518px;width:80px;height:44px;background:#d9ead3;border:2px solid #000;box-sizing:border-box;"></div>
<svg class="s" style="left:595.9px;top:518.9px" width="42" height="42" viewBox="0 0 24 24"><path d="M19 5v14H5V5h14m0-2H5c-1.1 0-2 .9-2 2v14c0 1.1.9 2 2 2h14c1.1 0 2-.9 2-2V5c0-1.1-.9-2-2-2z" fill="#4e843c"/></svg>
<div class="b" style="left:659px;top:518px;width:80px;height:44px;background:#d9ead3;border:2px solid #000;box-sizing:border-box;"></div>
<svg class="s" style="left:677.9px;top:518.9px" width="42" height="42" viewBox="0 0 24 24"><path d="M19 5v14H5V5h14m0-2H5c-1.1 0-2 .9-2 2v14c0 1.1.9 2 2 2h14c1.1 0 2-.9 2-2V5c0-1.1-.9-2-2-2z" fill="#4e843c"/></svg>
<div class="b" style="left:741px;top:518px;width:80px;height:44px;background:#d9ead3;border:2px solid #000;box-sizing:border-box;"></div>
<svg class="s" style="left:759.9px;top:518.9px" width="42" height="42" viewBox="0 0 24 24"><path d="M19 5v14H5V5h14m0-2H5c-1.1 0-2 .9-2 2v14c0 1.1.9 2 2 2h14c1.1 0 2-.9 2-2V5c0-1.1-.9-2-2-2z" fill="#4e843c"/></svg>
<div class="b" style="left:823px;top:518px;width:80px;height:44px;background:#d9ead3;border:2px solid #000;box-sizing:border-box;"></div>
<svg class="s" style="left:841.9px;top:518.9px" width="42" height="42" viewBox="0 0 24 24"><path d="M19 5v14H5V5h14m0-2H5c-1.1 0-2 .9-2 2v14c0 1.1.9 2 2 2h14c1.1 0 2-.9 2-2V5c0-1.1-.9-2-2-2z" fill="#4e843c"/></svg>
<div class="b" style="left:905px;top:518px;width:80px;height:44px;background:#ead1dc;border:2px solid #000;box-sizing:border-box;"></div>
<svg class="s" style="left:923.9px;top:518.9px" width="42" height="42" viewBox="0 0 24 24"><path d="M19 5v14H5V5h14m0-2H5c-1.1 0-2 .9-2 2v14c0 1.1.9 2 2 2h14c1.1 0 2-.9 2-2V5c0-1.1-.9-2-2-2z" fill="#a14e72"/></svg>
<div class="b" style="left:987px;top:518px;width:80px;height:44px;background:#ead1dc;border:2px solid #000;box-sizing:border-box;"></div>
<svg class="s" style="left:1005.9px;top:518.9px" width="42" height="42" viewBox="0 0 24 24"><path d="M19 5v14H5V5h14m0-2H5c-1.1 0-2 .9-2 2v14c0 1.1.9 2 2 2h14c1.1 0 2-.9 2-2V5c0-1.1-.9-2-2-2z" fill="#a14e72"/></svg>
<div class="b" style="left:1069px;top:518px;width:80px;height:44px;background:#ead1dc;border:2px solid #000;box-sizing:border-box;"></div>
<svg class="s" style="left:1087.9px;top:518.9px" width="42" height="42" viewBox="0 0 24 24"><path d="M19 5v14H5V5h14m0-2H5c-1.1 0-2 .9-2 2v14c0 1.1.9 2 2 2h14c1.1 0 2-.9 2-2V5c0-1.1-.9-2-2-2z" fill="#a14e72"/></svg>
<div class="b" style="left:1151px;top:518px;width:80px;height:44px;background:#ead1dc;border:2px solid #000;box-sizing:border-box;"></div>
<svg class="s" style="left:1169.9px;top:518.9px" width="42" height="42" viewBox="0 0 24 24"><path d="M19 5v14H5V5h14m0-2H5c-1.1 0-2 .9-2 2v14c0 1.1.9 2 2 2h14c1.1 0 2-.9 2-2V5c0-1.1-.9-2-2-2z" fill="#a14e72"/></svg>
<div class="b" style="left:1233px;top:518px;width:80px;height:44px;background:#ead1dc;border:2px solid #000;box-sizing:border-box;"></div>
<svg class="s" style="left:1251.9px;top:518.9px" width="42" height="42" viewBox="0 0 24 24"><path d="M19 5v14H5V5h14m0-2H5c-1.1 0-2 .9-2 2v14c0 1.1.9 2 2 2h14c1.1 0 2-.9 2-2V5c0-1.1-.9-2-2-2z" fill="#a14e72"/></svg>
<div class="b" style="left:3px;top:564px;width:80px;height:44px;background:#ffe599;border:2px solid #000;box-sizing:border-box;"></div>
<svg class="s" style="left:21.9px;top:564.9px" width="42" height="42" viewBox="0 0 24 24"><path d="M19 5v14H5V5h14m0-2H5c-1.1 0-2 .9-2 2v14c0 1.1.9 2 2 2h14c1.1 0 2-.9 2-2V5c0-1.1-.9-2-2-2z" fill="#9b7600"/></svg>
<div class="b" style="left:85px;top:564px;width:80px;height:44px;background:#ffe599;border:2px solid #000;box-sizing:border-box;"></div>
<svg class="s" style="left:103.9px;top:564.9px" width="42" height="42" viewBox="0 0 24 24"><path d="M19 5v14H5V5h14m0-2H5c-1.1 0-2 .9-2 2v14c0 1.1.9 2 2 2h14c1.1 0 2-.9 2-2V5c0-1.1-.9-2-2-2z" fill="#9b7600"/></svg>
<div class="b" style="left:167px;top:564px;width:80px;height:44px;background:#ffe599;border:2px solid #000;box-sizing:border-box;"></div>
<svg class="s" style="left:185.9px;top:564.9px" width="42" height="42" viewBox="0 0 24 24"><path d="M19 5v14H5V5h14m0-2H5c-1.1 0-2 .9-2 2v14c0 1.1.9 2 2 2h14c1.1 0 2-.9 2-2V5c0-1.1-.9-2-2-2z" fill="#9b7600"/></svg>
<div class="b" style="left:249px;top:564px;width:80px;height:44px;background:#ffe599;border:2px solid #000;box-sizing:border-box;"></div>
<svg class="s" style="left:267.9px;top:564.9px" width="42" height="42" viewBox="0 0 24 24"><path d="M19 5v14H5V5h14m0-2H5c-1.1 0-2 .9-2 2v14c0 1.1.9 2 2 2h14c1.1 0 2-.9 2-2V5c0-1.1-.9-2-2-2z" fill="#9b7600"/></svg>
<div class="b" style="left:331px;top:564px;width:80px;height:44px;background:#d9ead3;border:2px solid #000;box-sizing:border-box;"></div>
<svg class="s" style="left:349.9px;top:564.9px" width="42" height="42" viewBox="0 0 24 24"><path d="M19 5v14H5V5h14m0-2H5c-1.1 0-2 .9-2 2v14c0 1.1.9 2 2 2h14c1.1 0 2-.9 2-2V5c0-1.1-.9-2-2-2z" fill="#4e843c"/></svg>
<div class="b" style="left:413px;top:564px;width:80px;height:44px;background:#d9ead3;border:2px solid #000;box-sizing:border-box;"></div>
<svg class="s" style="left:431.9px;top:564.9px" width="42" height="42" viewBox="0 0 24 24"><path d="M19 5v14H5V5h14m0-2H5c-1.1 0-2 .9-2 2v14c0 1.1.9 2 2 2h14c1.1 0 2-.9 2-2V5c0-1.1-.9-2-2-2z" fill="#4e843c"/></svg>
<div class="b" style="left:495px;top:564px;width:80px;height:44px;background:#d9ead3;border:2px solid #000;box-sizing:border-box;"></div>
<svg class="s" style="left:513.9px;top:564.9px" width="42" height="42" viewBox="0 0 24 24"><path d="M19 5v14H5V5h14m0-2H5c-1.1 0-2 .9-2 2v14c0 1.1.9 2 2 2h14c1.1 0 2-.9 2-2V5c0-1.1-.9-2-2-2z" fill="#4e843c"/></svg>
<div class="b" style="left:577px;top:564px;width:80px;height:44px;background:#d9ead3;border:2px solid #000;box-sizing:border-box;"></div>
<svg class="s" style="left:595.9px;top:564.9px" width="42" height="42" viewBox="0 0 24 24"><path d="M19 5v14H5V5h14m0-2H5c-1.1 0-2 .9-2 2v14c0 1.1.9 2 2 2h14c1.1 0 2-.9 2-2V5c0-1.1-.9-2-2-2z" fill="#4e843c"/></svg>
<div class="b" style="left:659px;top:564px;width:80px;height:44px;background:#d9ead3;border:2px solid #000;box-sizing:border-box;"></div>
<svg class="s" style="left:677.9px;top:564.9px" width="42" height="42" viewBox="0 0 24 24"><path d="M19 5v14H5V5h14m0-2H5c-1.1 0-2 .9-2 2v14c0 1.1.9 2 2 2h14c1.1 0 2-.9 2-2V5c0-1.1-.9-2-2-2z" fill="#4e843c"/></svg>
<div class="b" style="left:741px;top:564px;width:80px;height:44px;background:#d9ead3;border:2px solid #000;box-sizing:border-box;"></div>
<svg class="s" style="left:759.9px;top:564.9px" width="42" height="42" viewBox="0 0 24 24"><path d="M19 5v14H5V5h14m0-2H5c-1.1 0-2 .9-2 2v14c0 1.1.9 2 2 2h14c1.1 0 2-.9 2-2V5c0-1.1-.9-2-2-2z" fill="#4e843c"/></svg>
<div class="b" style="left:823px;top:564px;width:80px;height:44px;background:#d9ead3;border:2px solid #000;box-sizing:border-box;"></div>
<svg class="s" style="left:841.9px;top:564.9px" width="42" height="42" viewBox="0 0 24 24"><path d="M19 5v14H5V5h14m0-2H5c-1.1 0-2 .9-2 2v14c0 1.1.9 2 2 2h14c1.1 0 2-.9 2-2V5c0-1.1-.9-2-2-2z" fill="#4e843c"/></svg>
<div class="b" style="left:905px;top:564px;width:80px;height:44px;background:#ead1dc;border:2px solid #000;box-sizing:border-box;"></div>
<svg class="s" style="left:923.9px;top:564.9px" width="42" height="42" viewBox="0 0 24 24"><path d="M19 5v14H5V5h14m0-2H5c-1.1 0-2 .9-2 2v14c0 1.1.9 2 2 2h14c1.1 0 2-.9 2-2V5c0-1.1-.9-2-2-2z" fill="#a14e72"/></svg>
<div class="b" style="left:987px;top:564px;width:80px;height:44px;background:#ead1dc;border:2px solid #000;box-sizing:border-box;"></div>
<svg class="s" style="left:1005.9px;top:564.9px" width="42" height="42" viewBox="0 0 24 24"><path d="M19 5v14H5V5h14m0-2H5c-1.1 0-2 .9-2 2v14c0 1.1.9 2 2 2h14c1.1 0 2-.9 2-2V5c0-1.1-.9-2-2-2z" fill="#a14e72"/></svg>
<div class="b" style="left:1069px;top:564px;width:80px;height:44px;background:#ead1dc;border:2px solid #000;box-sizing:border-box;"></div>
<svg class="s" style="left:1087.9px;top:564.9px" width="42" height="42" viewBox="0 0 24 24"><path d="M19 5v14H5V5h14m0-2H5c-1.1 0-2 .9-2 2v14c0 1.1.9 2 2 2h14c1.1 0 2-.9 2-2V5c0-1.1-.9-2-2-2z" fill="#a14e72"/></svg>
<div class="b" style="left:1151px;top:564px;width:80px;height:44px;background:#ead1dc;border:2px solid #000;box-sizing:border-box;"></div>
<svg class="s" style="left:1169.9px;top:564.9px" width="42" height="42" viewBox="0 0 24 24"><path d="M19 5v14H5V5h14m0-2H5c-1.1 0-2 .9-2 2v14c0 1.1.9 2 2 2h14c1.1 0 2-.9 2-2V5c0-1.1-.9-2-2-2z" fill="#a14e72"/></svg>
<div class="b" style="left:1233px;top:564px;width:80px;height:44px;background:#ead1dc;border:2px solid #000;box-sizing:border-box;"></div>
<svg class="s" style="left:1251.9px;top:564.9px" width="42" height="42" viewBox="0 0 24 24"><path d="M19 5v14H5V5h14m0-2H5c-1.1 0-2 .9-2 2v14c0 1.1.9 2 2 2h14c1.1 0 2-.9 2-2V5c0-1.1-.9-2-2-2z" fill="#a14e72"/></svg>
<div class="b" style="left:3px;top:610px;width:80px;height:44px;background:#ffe599;border:2px solid #000;box-sizing:border-box;"></div>
<svg class="s" style="left:21.9px;top:610.9px" width="42" height="42" viewBox="0 0 24 24"><path d="M19 3H5c-1.11 0-2 .9-2 2v14c0 1.1.89 2 2 2h14c1.11 0 2-.9 2-2V5c0-1.1-.89-2-2-2zm-9 14l-5-5 1.41-1.41L10 14.17l7.59-7.59L19 8l-9 9z" fill="#9b7600"/></svg>
<div class="b" style="left:85px;top:610px;width:80px;height:44px;background:#ffe599;border:2px solid #000;box-sizing:border-box;"></div>
<svg class="s" style="left:103.9px;top:610.9px" width="42" height="42" viewBox="0 0 24 24"><path d="M19 5v14H5V5h14m0-2H5c-1.1 0-2 .9-2 2v14c0 1.1.9 2 2 2h14c1.1 0 2-.9 2-2V5c0-1.1-.9-2-2-2z" fill="#9b7600"/></svg>
<div class="b" style="left:167px;top:610px;width:80px;height:44px;background:#ffe599;border:2px solid #000;box-sizing:border-box;"></div>
<svg class="s" style="left:185.9px;top:610.9px" width="42" height="42" viewBox="0 0 24 24"><path d="M19 5v14H5V5h14m0-2H5c-1.1 0-2 .9-2 2v14c0 1.1.9 2 2 2h14c1.1 0 2-.9 2-2V5c0-1.1-.9-2-2-2z" fill="#9b7600"/></svg>
<div class="b" style="left:249px;top:610px;width:80px;height:44px;background:#ffe599;border:2px solid #000;box-sizing:border-box;"></div>
<svg class="s" style="left:267.9px;top:610.9px" width="42" height="42" viewBox="0 0 24 24"><path d="M19 3H5c-1.11 0-2 .9-2 2v14c0 1.1.89 2 2 2h14c1.11 0 2-.9 2-2V5c0-1.1-.89-2-2-2zm-9 14l-5-5 1.41-1.41L10 14.17l7.59-7.59L19 8l-9 9z" fill="#9b7600"/></svg>
<div class="b" style="left:331px;top:610px;width:80px;height:44px;background:#d9ead3;border:2px solid #000;box-sizing:border-box;"></div>
<svg class="s" style="left:349.9px;top:610.9px" width="42" height="42" viewBox="0 0 24 24"><path d="M19 5v14H5V5h14m0-2H5c-1.1 0-2 .9-2 2v14c0 1.1.9 2 2 2h14c1.1 0 2-.9 2-2V5c0-1.1-.9-2-2-2z" fill="#4e843c"/></svg>
<div class="b" style="left:413px;top:610px;width:80px;height:44px;background:#d9ead3;border:2px solid #000;box-sizing:border-box;"></div>
<svg class="s" style="left:431.9px;top:610.9px" width="42" height="42" viewBox="0 0 24 24"><path d="M19 5v14H5V5h14m0-2H5c-1.1 0-2 .9-2 2v14c0 1.1.9 2 2 2h14c1.1 0 2-.9 2-2V5c0-1.1-.9-2-2-2z" fill="#4e843c"/></svg>
<div class="b" style="left:495px;top:610px;width:80px;height:44px;background:#d9ead3;border:2px solid #000;box-sizing:border-box;"></div>
<svg class="s" style="left:513.9px;top:610.9px" width="42" height="42" viewBox="0 0 24 24"><path d="M19 5v14H5V5h14m0-2H5c-1.1 0-2 .9-2 2v14c0 1.1.9 2 2 2h14c1.1 0 2-.9 2-2V5c0-1.1-.9-2-2-2z" fill="#4e843c"/></svg>
<div class="b" style="left:577px;top:610px;width:80px;height:44px;background:#d9ead3;border:2px solid #000;box-sizing:border-box;"></div>
<svg class="s" style="left:595.9px;top:610.9px" width="42" height="42" viewBox="0 0 24 24"><path d="M19 5v14H5V5h14m0-2H5c-1.1 0-2 .9-2 2v14c0 1.1.9 2 2 2h14c1.1 0 2-.9 2-2V5c0-1.1-.9-2-2-2z" fill="#4e843c"/></svg>
<div class="b" style="left:659px;top:610px;width:80px;height:44px;background:#d9ead3;border:2px solid #000;box-sizing:border-box;"></div>
<svg class="s" style="left:677.9px;top:610.9px" width="42" height="42" viewBox="0 0 24 24"><path d="M19 5v14H5V5h14m0-2H5c-1.1 0-2 .9-2 2v14c0 1.1.9 2 2 2h14c1.1 0 2-.9 2-2V5c0-1.1-.9-2-2-2z" fill="#4e843c"/></svg>
<div class="b" style="left:741px;top:610px;width:80px;height:44px;background:#d9ead3;border:2px solid #000;box-sizing:border-box;"></div>
<svg class="s" style="left:759.9px;top:610.9px" width="42" height="42" viewBox="0 0 24 24"><path d="M19 5v14H5V5h14m0-2H5c-1.1 0-2 .9-2 2v14c0 1.1.9 2 2 2h14c1.1 0 2-.9 2-2V5c0-1.1-.9-2-2-2z" fill="#4e843c"/></svg>
<div class="b" style="left:823px;top:610px;width:80px;height:44px;background:#d9ead3;border:2px solid #000;box-sizing:border-box;"></div>
<svg class="s" style="left:841.9px;top:610.9px" width="42" height="42" viewBox="0 0 24 24"><path d="M19 5v14H5V5h14m0-2H5c-1.1 0-2 .9-2 2v14c0 1.1.9 2 2 2h14c1.1 0 2-.9 2-2V5c0-1.1-.9-2-2-2z" fill="#4e843c"/></svg>
<div class="b" style="left:905px;top:610px;width:80px;height:44px;background:#ead1dc;border:2px solid #000;box-sizing:border-box;"></div>
<svg class="s" style="left:923.9px;top:610.9px" width="42" height="42" viewBox="0 0 24 24"><path d="M19 5v14H5V5h14m0-2H5c-1.1 0-2 .9-2 2v14c0 1.1.9 2 2 2h14c1.1 0 2-.9 2-2V5c0-1.1-.9-2-2-2z" fill="#a14e72"/></svg>
<div class="b" style="left:987px;top:610px;width:80px;height:44px;background:#ead1dc;border:2px solid #000;box-sizing:border-box;"></div>
<svg class="s" style="left:1005.9px;top:610.9px" width="42" height="42" viewBox="0 0 24 24"><path d="M19 5v14H5V5h14m0-2H5c-1.1 0-2 .9-2 2v14c0 1.1.9 2 2 2h14c1.1 0 2-.9 2-2V5c0-1.1-.9-2-2-2z" fill="#a14e72"/></svg>
<div class="b" style="left:1069px;top:610px;width:80px;height:44px;background:#ead1dc;border:2px solid #000;box-sizing:border-box;"></div>
<svg class="s" style="left:1087.9px;top:610.9px" width="42" height="42" viewBox="0 0 24 24"><path d="M19 5v14H5V5h14m0-2H5c-1.1 0-2 .9-2 2v14c0 1.1.9 2 2 2h14c1.1 0 2-.9 2-2V5c0-1.1-.9-2-2-2z" fill="#a14e72"/></svg>
<div class="b" style="left:1151px;top:610px;width:80px;height:44px;background:#ead1dc;border:2px solid #000;box-sizing:border-box;"></div>
<svg class="s" style="left:1169.9px;top:610.9px" width="42" height="42" viewBox="0 0 24 24"><path d="M19 5v14H5V5h14m0-2H5c-1.1 0-2 .9-2 2v14c0 1.1.9 2 2 2h14c1.1 0 2-.9 2-2V5c0-1.1-.9-2-2-2z" fill="#a14e72"/></svg>
<div class="b" style="left:1233px;top:610px;width:80px;height:44px;background:#ead1dc;border:2px solid #000;box-sizing:border-box;"></div>
<svg class="s" style="left:1251.9px;top:610.9px" width="42" height="42" viewBox="0 0 24 24"><path d="M19 5v14H5V5h14m0-2H5c-1.1 0-2 .9-2 2v14c0 1.1.9 2 2 2h14c1.1 0 2-.9 2-2V5c0-1.1-.9-2-2-2z" fill="#a14e72"/></svg>
<div class="b" style="left:3px;top:656px;width:80px;height:44px;background:#ffe599;border:2px solid #000;box-sizing:border-box;"></div>
<svg class="s" style="left:21.9px;top:656.9px" width="42" height="42" viewBox="0 0 24 24"><path d="M19 5v14H5V5h14m0-2H5c-1.1 0-2 .9-2 2v14c0 1.1.9 2 2 2h14c1.1 0 2-.9 2-2V5c0-1.1-.9-2-2-2z" fill="#9b7600"/></svg>
<div class="b" style="left:85px;top:656px;width:80px;height:44px;background:#ffe599;border:2px solid #000;box-sizing:border-box;"></div>
<svg class="s" style="left:103.9px;top:656.9px" width="42" height="42" viewBox="0 0 24 24"><path d="M19 5v14H5V5h14m0-2H5c-1.1 0-2 .9-2 2v14c0 1.1.9 2 2 2h14c1.1 0 2-.9 2-2V5c0-1.1-.9-2-2-2z" fill="#9b7600"/></svg>
<div class="b" style="left:167px;top:656px;width:80px;height:44px;background:#ffe599;border:2px solid #000;box-sizing:border-box;"></div>
<svg class="s" style="left:185.9px;top:656.9px" width="42" height="42" viewBox="0 0 24 24"><path d="M19 5v14H5V5h14m0-2H5c-1.1 0-2 .9-2 2v14c0 1.1.9 2 2 2h14c1.1 0 2-.9 2-2V5c0-1.1-.9-2-2-2z" fill="#9b7600"/></svg>
<div class="b" style="left:249px;top:656px;width:80px;height:44px;background:#ffe599;border:2px solid #000;box-sizing:border-box;"></div>
<svg class="s" style="left:267.9px;top:656.9px" width="42" height="42" viewBox="0 0 24 24"><path d="M19 3H5c-1.11 0-2 .9-2 2v14c0 1.1.89 2 2 2h14c1.11 0 2-.9 2-2V5c0-1.1-.89-2-2-2zm-9 14l-5-5 1.41-1.41L10 14.17l7.59-7.59L19 8l-9 9z" fill="#9b7600"/></svg>
<div class="b" style="left:331px;top:656px;width:80px;height:44px;background:#d9ead3;border:2px solid #000;box-sizing:border-box;"></div>
<svg class="s" style="left:349.9px;top:656.9px" width="42" height="42" viewBox="0 0 24 24"><path d="M19 5v14H5V5h14m0-2H5c-1.1 0-2 .9-2 2v14c0 1.1.9 2 2 2h14c1.1 0 2-.9 2-2V5c0-1.1-.9-2-2-2z" fill="#4e843c"/></svg>
<div class="b" style="left:413px;top:656px;width:80px;height:44px;background:#d9ead3;border:2px solid #000;box-sizing:border-box;"></div>
<svg class="s" style="left:431.9px;top:656.9px" width="42" height="42" viewBox="0 0 24 24"><path d="M19 5v14H5V5h14m0-2H5c-1.1 0-2 .9-2 2v14c0 1.1.9 2 2 2h14c1.1 0 2-.9 2-2V5c0-1.1-.9-2-2-2z" fill="#4e843c"/></svg>
<div class="b" style="left:495px;top:656px;width:80px;height:44px;background:#d9ead3;border:2px solid #000;box-sizing:border-box;"></div>
<svg class="s" style="left:513.9px;top:656.9px" width="42" height="42" viewBox="0 0 24 24"><path d="M19 5v14H5V5h14m0-2H5c-1.1 0-2 .9-2 2v14c0 1.1.9 2 2 2h14c1.1 0 2-.9 2-2V5c0-1.1-.9-2-2-2z" fill="#4e843c"/></svg>
<div class="b" style="left:577px;top:656px;width:80px;height:44px;background:#d9ead3;border:2px solid #000;box-sizing:border-box;"></div>
<svg class="s" style="left:595.9px;top:656.9px" width="42" height="42" viewBox="0 0 24 24"><path d="M19 5v14H5V5h14m0-2H5c-1.1 0-2 .9-2 2v14c0 1.1.9 2 2 2h14c1.1 0 2-.9 2-2V5c0-1.1-.9-2-2-2z" fill="#4e843c"/></svg>
<div class="b" style="left:659px;top:656px;width:80px;height:44px;background:#d9ead3;border:2px solid #000;box-sizing:border-box;"></div>
<svg class="s" style="left:677.9px;top:656.9px" width="42" height="42" viewBox="0 0 24 24"><path d="M19 5v14H5V5h14m0-2H5c-1.1 0-2 .9-2 2v14c0 1.1.9 2 2 2h14c1.1 0 2-.9 2-2V5c0-1.1-.9-2-2-2z" fill="#4e843c"/></svg>
<div class="b" style="left:741px;top:656px;width:80px;height:44px;background:#d9ead3;border:2px solid #000;box-sizing:border-box;"></div>
<svg class="s" style="left:759.9px;top:656.9px" width="42" height="42" viewBox="0 0 24 24"><path d="M19 5v14H5V5h14m0-2H5c-1.1 0-2 .9-2 2v14c0 1.1.9 2 2 2h14c1.1 0 2-.9 2-2V5c0-1.1-.9-2-2-2z" fill="#4e843c"/></svg>
<div class="b" style="left:823px;top:656px;width:80px;height:44px;background:#d9ead3;border:2px solid #000;box-sizing:border-box;"></div>
<svg class="s" style="left:841.9px;top:656.9px" width="42" height="42" viewBox="0 0 24 24"><path d="M19 5v14H5V5h14m0-2H5c-1.1 0-2 .9-2 2v14c0 1.1.9 2 2 2h14c1.1 0 2-.9 2-2V5c0-1.1-.9-2-2-2z" fill="#4e843c"/></svg>
<div class="b" style="left:905px;top:656px;width:80px;height:44px;background:#ead1dc;border:2px solid #000;box-sizing:border-box;"></div>
<svg class="s" style="left:923.9px;top:656.9px" width="42" height="42" viewBox="0 0 24 24"><path d="M19 5v14H5V5h14m0-2H5c-1.1 0-2 .9-2 2v14c0 1.1.9 2 2 2h14c1.1 0 2-.9 2-2V5c0-1.1-.9-2-2-2z" fill="#a14e72"/></svg>
<div class="b" style="left:987px;top:656px;width:80px;height:44px;background:#ead1dc;border:2px solid #000;box-sizing:border-box;"></div>
<svg class="s" style="left:1005.9px;top:656.9px" width="42" height="42" viewBox="0 0 24 24"><path d="M19 5v14H5V5h14m0-2H5c-1.1 0-2 .9-2 2v14c0 1.1.9 2 2 2h14c1.1 0 2-.9 2-2V5c0-1.1-.9-2-2-2z" fill="#a14e72"/></svg>
<div class="b" style="left:1069px;top:656px;width:80px;height:44px;background:#ead1dc;border:2px solid #000;box-sizing:border-box;"></div>
<svg class="s" style="left:1087.9px;top:656.9px" width="42" height="42" viewBox="0 0 24 24"><path d="M19 5v14H5V5h14m0-2H5c-1.1 0-2 .9-2 2v14c0 1.1.9 2 2 2h14c1.1 0 2-.9 2-2V5c0-1.1-.9-2-2-2z" fill="#a14e72"/></svg>
<div class="b" style="left:1151px;top:656px;width:80px;height:44px;background:#ead1dc;border:2px solid #000;box-sizing:border-box;"></div>
<svg class="s" style="left:1169.9px;top:656.9px" width="42" height="42" viewBox="0 0 24 24"><path d="M19 5v14H5V5h14m0-2H5c-1.1 0-2 .9-2 2v14c0 1.1.9 2 2 2h14c1.1 0 2-.9 2-2V5c0-1.1-.9-2-2-2z" fill="#a14e72"/></svg>
<div class="b" style="left:1233px;top:656px;width:80px;height:44px;background:#ead1dc;border:2px solid #000;box-sizing:border-box;"></div>
<svg class="s" style="left:1251.9px;top:656.9px" width="42" height="42" viewBox="0 0 24 24"><path d="M19 5v14H5V5h14m0-2H5c-1.1 0-2 .9-2 2v14c0 1.1.9 2 2 2h14c1.1 0 2-.9 2-2V5c0-1.1-.9-2-2-2z" fill="#a14e72"/></svg>
<div class="b" style="left:3px;top:702px;width:80px;height:44px;background:#ffe599;border:2px solid #000;box-sizing:border-box;"></div>
<svg class="s" style="left:21.9px;top:702.9px" width="42" height="42" viewBox="0 0 24 24"><path d="M19 5v14H5V5h14m0-2H5c-1.1 0-2 .9-2 2v14c0 1.1.9 2 2 2h14c1.1 0 2-.9 2-2V5c0-1.1-.9-2-2-2z" fill="#9b7600"/></svg>
<div class="b" style="left:85px;top:702px;width:80px;height:44px;background:#ffe599;border:2px solid #000;box-sizing:border-box;"></div>
<svg class="s" style="left:103.9px;top:702.9px" width="42" height="42" viewBox="0 0 24 24"><path d="M19 5v14H5V5h14m0-2H5c-1.1 0-2 .9-2 2v14c0 1.1.9 2 2 2h14c1.1 0 2-.9 2-2V5c0-1.1-.9-2-2-2z" fill="#9b7600"/></svg>
<div class="b" style="left:167px;top:702px;width:80px;height:44px;background:#ffe599;border:2px solid #000;box-sizing:border-box;"></div>
<svg class="s" style="left:185.9px;top:702.9px" width="42" height="42" viewBox="0 0 24 24"><path d="M19 5v14H5V5h14m0-2H5c-1.1 0-2 .9-2 2v14c0 1.1.9 2 2 2h14c1.1 0 2-.9 2-2V5c0-1.1-.9-2-2-2z" fill="#9b7600"/></svg>
<div class="b" style="left:249px;top:702px;width:80px;height:44px;background:#ffe599;border:2px solid #000;box-sizing:border-box;"></div>
<svg class="s" style="left:267.9px;top:702.9px" width="42" height="42" viewBox="0 0 24 24"><path d="M19 3H5c-1.11 0-2 .9-2 2v14c0 1.1.89 2 2 2h14c1.11 0 2-.9 2-2V5c0-1.1-.89-2-2-2zm-9 14l-5-5 1.41-1.41L10 14.17l7.59-7.59L19 8l-9 9z" fill="#9b7600"/></svg>
<div class="b" style="left:331px;top:702px;width:80px;height:44px;background:#d9ead3;border:2px solid #000;box-sizing:border-box;"></div>
<svg class="s" style="left:349.9px;top:702.9px" width="42" height="42" viewBox="0 0 24 24"><path d="M19 5v14H5V5h14m0-2H5c-1.1 0-2 .9-2 2v14c0 1.1.9 2 2 2h14c1.1 0 2-.9 2-2V5c0-1.1-.9-2-2-2z" fill="#4e843c"/></svg>
<div class="b" style="left:413px;top:702px;width:80px;height:44px;background:#d9ead3;border:2px solid #000;box-sizing:border-box;"></div>
<svg class="s" style="left:431.9px;top:702.9px" width="42" height="42" viewBox="0 0 24 24"><path d="M19 3H5c-1.11 0-2 .9-2 2v14c0 1.1.89 2 2 2h14c1.11 0 2-.9 2-2V5c0-1.1-.89-2-2-2zm-9 14l-5-5 1.41-1.41L10 14.17l7.59-7.59L19 8l-9 9z" fill="#4e843c"/></svg>
<div class="b" style="left:495px;top:702px;width:80px;height:44px;background:#d9ead3;border:2px solid #000;box-sizing:border-box;"></div>
<svg class="s" style="left:513.9px;top:702.9px" width="42" height="42" viewBox="0 0 24 24"><path d="M19 5v14H5V5h14m0-2H5c-1.1 0-2 .9-2 2v14c0 1.1.9 2 2 2h14c1.1 0 2-.9 2-2V5c0-1.1-.9-2-2-2z" fill="#4e843c"/></svg>
<div class="b" style="left:577px;top:702px;width:80px;height:44px;background:#d9ead3;border:2px solid #000;box-sizing:border-box;"></div>
<svg class="s" style="left:595.9px;top:702.9px" width="42" height="42" viewBox="0 0 24 24"><path d="M19 5v14H5V5h14m0-2H5c-1.1 0-2 .9-2 2v14c0 1.1.9 2 2 2h14c1.1 0 2-.9 2-2V5c0-1.1-.9-2-2-2z" fill="#4e843c"/></svg>
<div class="b" style="left:659px;top:702px;width:80px;height:44px;background:#d9ead3;border:2px solid #000;box-sizing:border-box;"></div>
<svg class="s" style="left:677.9px;top:702.9px" width="42" height="42" viewBox="0 0 24 24"><path d="M19 5v14H5V5h14m0-2H5c-1.1 0-2 .9-2 2v14c0 1.1.9 2 2 2h14c1.1 0 2-.9 2-2V5c0-1.1-.9-2-2-2z" fill="#4e843c"/></svg>
<div class="b" style="left:741px;top:702px;width:80px;height:44px;background:#d9ead3;border:2px solid #000;box-sizing:border-box;"></div>
<svg class="s" style="left:759.9px;top:702.9px" width="42" height="42" viewBox="0 0 24 24"><path d="M19 5v14H5V5h14m0-2H5c-1.1 0-2 .9-2 2v14c0 1.1.9 2 2 2h14c1.1 0 2-.9 2-2V5c0-1.1-.9-2-2-2z" fill="#4e843c"/></svg>
<div class="b" style="left:823px;top:702px;width:80px;height:44px;background:#d9ead3;border:2px solid #000;box-sizing:border-box;"></div>
<svg class="s" style="left:841.9px;top:702.9px" width="42" height="42" viewBox="0 0 24 24"><path d="M19 5v14H5V5h14m0-2H5c-1.1 0-2 .9-2 2v14c0 1.1.9 2 2 2h14c1.1 0 2-.9 2-2V5c0-1.1-.9-2-2-2z" fill="#4e843c"/></svg>
<div class="b" style="left:905px;top:702px;width:80px;height:44px;background:#ead1dc;border:2px solid #000;box-sizing:border-box;"></div>
<svg class="s" style="left:923.9px;top:702.9px" width="42" height="42" viewBox="0 0 24 24"><path d="M19 5v14H5V5h14m0-2H5c-1.1 0-2 .9-2 2v14c0 1.1.9 2 2 2h14c1.1 0 2-.9 2-2V5c0-1.1-.9-2-2-2z" fill="#a14e72"/></svg>
<div class="b" style="left:987px;top:702px;width:80px;height:44px;background:#ead1dc;border:2px solid #000;box-sizing:border-box;"></div>
<svg class="s" style="left:1005.9px;top:702.9px" width="42" height="42" viewBox="0 0 24 24"><path d="M19 5v14H5V5h14m0-2H5c-1.1 0-2 .9-2 2v14c0 1.1.9 2 2 2h14c1.1 0 2-.9 2-2V5c0-1.1-.9-2-2-2z" fill="#a14e72"/></svg>
<div class="b" style="left:1069px;top:702px;width:80px;height:44px;background:#ead1dc;border:2px solid #000;box-sizing:border-box;"></div>
<svg class="s" style="left:1087.9px;top:702.9px" width="42" height="42" viewBox="0 0 24 24"><path d="M19 5v14H5V5h14m0-2H5c-1.1 0-2 .9-2 2v14c0 1.1.9 2 2 2h14c1.1 0 2-.9 2-2V5c0-1.1-.9-2-2-2z" fill="#a14e72"/></svg>
<div class="b" style="left:1151px;top:702px;width:80px;height:44px;background:#ead1dc;border:2px solid #000;box-sizing:border-box;"></div>
<svg class="s" style="left:1169.9px;top:702.9px" width="42" height="42" viewBox="0 0 24 24"><path d="M19 5v14H5V5h14m0-2H5c-1.1 0-2 .9-2 2v14c0 1.1.9 2 2 2h14c1.1 0 2-.9 2-2V5c0-1.1-.9-2-2-2z" fill="#a14e72"/></svg>
<div class="b" style="left:1233px;top:702px;width:80px;height:44px;background:#ead1dc;border:2px solid #000;box-sizing:border-box;"></div>
<svg class="s" style="left:1251.9px;top:702.9px" width="42" height="42" viewBox="0 0 24 24"><path d="M19 5v14H5V5h14m0-2H5c-1.1 0-2 .9-2 2v14c0 1.1.9 2 2 2h14c1.1 0 2-.9 2-2V5c0-1.1-.9-2-2-2z" fill="#a14e72"/></svg>
<div class="b" style="left:3px;top:748px;width:80px;height:44px;background:#ffe599;border:2px solid #000;box-sizing:border-box;"></div>
<svg class="s" style="left:21.9px;top:748.9px" width="42" height="42" viewBox="0 0 24 24"><path d="M19 5v14H5V5h14m0-2H5c-1.1 0-2 .9-2 2v14c0 1.1.9 2 2 2h14c1.1 0 2-.9 2-2V5c0-1.1-.9-2-2-2z" fill="#9b7600"/></svg>
<div class="b" style="left:85px;top:748px;width:80px;height:44px;background:#ffe599;border:2px solid #000;box-sizing:border-box;"></div>
<svg class="s" style="left:103.9px;top:748.9px" width="42" height="42" viewBox="0 0 24 24"><path d="M19 5v14H5V5h14m0-2H5c-1.1 0-2 .9-2 2v14c0 1.1.9 2 2 2h14c1.1 0 2-.9 2-2V5c0-1.1-.9-2-2-2z" fill="#9b7600"/></svg>
<div class="b" style="left:167px;top:748px;width:80px;height:44px;background:#ffe599;border:2px solid #000;box-sizing:border-box;"></div>
<svg class="s" style="left:185.9px;top:748.9px" width="42" height="42" viewBox="0 0 24 24"><path d="M19 5v14H5V5h14m0-2H5c-1.1 0-2 .9-2 2v14c0 1.1.9 2 2 2h14c1.1 0 2-.9 2-2V5c0-1.1-.9-2-2-2z" fill="#9b7600"/></svg>
<div class="b" style="left:249px;top:748px;width:80px;height:44px;background:#ffe599;border:2px solid #000;box-sizing:border-box;"></div>
<svg class="s" style="left:267.9px;top:748.9px" width="42" height="42" viewBox="0 0 24 24"><path d="M19 5v14H5V5h14m0-2H5c-1.1 0-2 .9-2 2v14c0 1.1.9 2 2 2h14c1.1 0 2-.9 2-2V5c0-1.1-.9-2-2-2z" fill="#9b7600"/></svg>
<div class="b" style="left:331px;top:748px;width:80px;height:44px;background:#d9ead3;border:2px solid #000;box-sizing:border-box;"></div>
<svg class="s" style="left:349.9px;top:748.9px" width="42" height="42" viewBox="0 0 24 24"><path d="M19 5v14H5V5h14m0-2H5c-1.1 0-2 .9-2 2v14c0 1.1.9 2 2 2h14c1.1 0 2-.9 2-2V5c0-1.1-.9-2-2-2z" fill="#4e843c"/></svg>
<div class="b" style="left:413px;top:748px;width:80px;height:44px;background:#d9ead3;border:2px solid #000;box-sizing:border-box;"></div>
<svg class="s" style="left:431.9px;top:748.9px" width="42" height="42" viewBox="0 0 24 24"><path d="M19 5v14H5V5h14m0-2H5c-1.1 0-2 .9-2 2v14c0 1.1.9 2 2 2h14c1.1 0 2-.9 2-2V5c0-1.1-.9-2-2-2z" fill="#4e843c"/></svg>
<div class="b" style="left:495px;top:748px;width:80px;height:44px;background:#d9ead3;border:2px solid #000;box-sizing:border-box;"></div>
<svg class="s" style="left:513.9px;top:748.9px" width="42" height="42" viewBox="0 0 24 24"><path d="M19 5v14H5V5h14m0-2H5c-1.1 0-2 .9-2 2v14c0 1.1.9 2 2 2h14c1.1 0 2-.9 2-2V5c0-1.1-.9-2-2-2z" fill="#4e843c"/></svg>
<div class="b" style="left:577px;top:748px;width:80px;height:44px;background:#d9ead3;border:2px solid #000;box-sizing:border-box;"></div>
<svg class="s" style="left:595.9px;top:748.9px" width="42" height="42" viewBox="0 0 24 24"><path d="M19 5v14H5V5h14m0-2H5c-1.1 0-2 .9-2 2v14c0 1.1.9 2 2 2h14c1.1 0 2-.9 2-2V5c0-1.1-.9-2-2-2z" fill="#4e843c"/></svg>
<div class="b" style="left:659px;top:748px;width:80px;height:44px;background:#d9ead3;border:2px solid #000;box-sizing:border-box;"></div>
<svg class="s" style="left:677.9px;top:748.9px" width="42" height="42" viewBox="0 0 24 24"><path d="M19 5v14H5V5h14m0-2H5c-1.1 0-2 .9-2 2v14c0 1.1.9 2 2 2h14c1.1 0 2-.9 2-2V5c0-1.1-.9-2-2-2z" fill="#4e843c"/></svg>
<div class="b" style="left:741px;top:748px;width:80px;height:44px;background:#d9ead3;border:2px solid #000;box-sizing:border-box;"></div>
<svg class="s" style="left:759.9px;top:748.9px" width="42" height="42" viewBox="0 0 24 24"><path d="M19 5v14H5V5h14m0-2H5c-1.1 0-2 .9-2 2v14c0 1.1.9 2 2 2h14c1.1 0 2-.9 2-2V5c0-1.1-.9-2-2-2z" fill="#4e843c"/></svg>
<div class="b" style="left:823px;top:748px;width:80px;height:44px;background:#d9ead3;border:2px solid #000;box-sizing:border-box;"></div>
<svg class="s" style="left:841.9px;top:748.9px" width="42" height="42" viewBox="0 0 24 24"><path d="M19 5v14H5V5h14m0-2H5c-1.1 0-2 .9-2 2v14c0 1.1.9 2 2 2h14c1.1 0 2-.9 2-2V5c0-1.1-.9-2-2-2z" fill="#4e843c"/></svg>
<div class="b" style="left:905px;top:748px;width:80px;height:44px;background:#ead1dc;border:2px solid #000;box-sizing:border-box;"></div>
<svg class="s" style="left:923.9px;top:748.9px" width="42" height="42" viewBox="0 0 24 24"><path d="M19 5v14H5V5h14m0-2H5c-1.1 0-2 .9-2 2v14c0 1.1.9 2 2 2h14c1.1 0 2-.9 2-2V5c0-1.1-.9-2-2-2z" fill="#a14e72"/></svg>
<div class="b" style="left:987px;top:748px;width:80px;height:44px;background:#ead1dc;border:2px solid #000;box-sizing:border-box;"></div>
<svg class="s" style="left:1005.9px;top:748.9px" width="42" height="42" viewBox="0 0 24 24"><path d="M19 5v14H5V5h14m0-2H5c-1.1 0-2 .9-2 2v14c0 1.1.9 2 2 2h14c1.1 0 2-.9 2-2V5c0-1.1-.9-2-2-2z" fill="#a14e72"/></svg>
<div class="b" style="left:1069px;top:748px;width:80px;height:44px;background:#ead1dc;border:2px solid #000;box-sizing:border-box;"></div>
<svg class="s" style="left:1087.9px;top:748.9px" width="42" height="42" viewBox="0 0 24 24"><path d="M19 5v14H5V5h14m0-2H5c-1.1 0-2 .9-2 2v14c0 1.1.9 2 2 2h14c1.1 0 2-.9 2-2V5c0-1.1-.9-2-2-2z" fill="#a14e72"/></svg>
<div class="b" style="left:1151px;top:748px;width:80px;height:44px;background:#ead1dc;border:2px solid #000;box-sizing:border-box;"></div>
<svg class="s" style="left:1169.9px;top:748.9px" width="42" height="42" viewBox="0 0 24 24"><path d="M19 5v14H5V5h14m0-2H5c-1.1 0-2 .9-2 2v14c0 1.1.9 2 2 2h14c1.1 0 2-.9 2-2V5c0-1.1-.9-2-2-2z" fill="#a14e72"/></svg>
<div class="b" style="left:1233px;top:748px;width:80px;height:44px;background:#ead1dc;border:2px solid #000;box-sizing:border-box;"></div>
<svg class="s" style="left:1251.9px;top:748.9px" width="42" height="42" viewBox="0 0 24 24"><path d="M19 5v14H5V5h14m0-2H5c-1.1 0-2 .9-2 2v14c0 1.1.9 2 2 2h14c1.1 0 2-.9 2-2V5c0-1.1-.9-2-2-2z" fill="#a14e72"/></svg>
</div>
<div class="b" style="left:0px;top:46px;width:1920px;height:1.8px;background:#c2c3c7;"></div>
<div class="b" style="left:640px;top:0px;width:6px;height:756px;background:#9b9b9e;"></div>
<div class="b" style="left:646px;top:47px;width:2px;height:709px;background:#fbf6ec;"></div>
<div class="b" style="left:647px;top:47px;width:1px;height:709px;background:#3a3a3a;"></div>
<div class="b" style="left:92px;top:48px;width:217px;height:149px;background:transparent;border:3px solid #4b5784;box-sizing:border-box;"></div>
<div class="b" style="left:84px;top:40px;width:16px;height:16px;background:#4a64a3;border-radius:50%;"></div>
<div class="b" style="left:301px;top:189px;width:16px;height:16px;background:#4a64a3;border-radius:50%;"></div>
</div>
<div class="b" style="left:0px;top:972px;width:1920px;height:1px;background:#c6c6ca;"></div>
<div class="b" style="left:18.6px;top:977.6px;width:1883px;height:72.2px;background:#ffffff;border-radius:36px;"></div>
<svg class="s" style="left:40.50px;top:1000.50px;" width="27.30" height="26.20" viewBox="120 -840 720 720" preserveAspectRatio="none"><path d="M400-240v-80h62l105-120-105-120h-66l-64 344q-8 45-37 70.5T221-120q-45 0-73-24t-28-64q0-32 17-51.5t43-19.5q25 0 42.5 17t17.5 41q0 5-.5 9t-1.5 9q5-1 8.5-5.5T252-221l62-339H200v-80h129l21-114q7-38 37.5-62t72.5-24q44 0 72 26t28 65q0 30-17 49.5T500-680q-25 0-42.5-17T440-739q0-5 .5-9t1.5-9q-6 2-9 6t-5 12l-17 99h189v80h-32l52 59 52-59h-32v-80h200v80h-62L673-440l105 120h62v80H640v-80h32l-52-60-52 60h32v80H400Z" fill="#3f4046"/></svg>
<div class="t" style="top:996.01px;font-size:35.9px;line-height:35.9px;color:#111;font-weight:normal;left:95.80px;">Отметка времени</div>
<svg class="s" style="left:1786px;top:1004px;" width="14" height="20" viewBox="0 0 14 20"><path d="M11.5 1.5L3.3 9.9L11.5 18.3" stroke="#a3a3a7" stroke-width="2.6" fill="none"/></svg>
<svg class="s" style="left:1858px;top:1004px;" width="14" height="20" viewBox="0 0 14 20"><path d="M2.5 1.5L10.7 9.9L2.5 18.3" stroke="#3c3d44" stroke-width="2.6" fill="none"/></svg>
<div class="b" style="left:40.5px;top:1081.4px;width:27px;height:3px;background:#38383d;border-radius:1.5px;"></div>
<div class="b" style="left:40.5px;top:1087.5px;width:27px;height:3px;background:#38383d;border-radius:1.5px;"></div>
<div class="b" style="left:40.5px;top:1093.4px;width:27px;height:3px;background:#38383d;border-radius:1.5px;"></div>
<div class="b" style="left:40.5px;top:1099.4px;width:27px;height:3px;background:#38383d;border-radius:1.5px;"></div>
<div class="b" style="left:96px;top:1062px;width:452px;height:60px;background:#455a91;border-radius:30px;"></div>
<div class="b" style="left:129.9px;top:1080.7px;width:22.3px;height:22.5px;background:#ffffff;border-radius:3px;"></div>
<div class="b" style="left:134.9px;top:1085.8000000000002px;width:2.2px;height:2.2px;background:#455a91;border-radius:50%;"></div>
<div class="b" style="left:140px;top:1085.9px;width:7px;height:2px;background:#455a91;"></div>
<div class="b" style="left:134.9px;top:1090.9px;width:2.2px;height:2.2px;background:#455a91;border-radius:50%;"></div>
<div class="b" style="left:140px;top:1091px;width:7px;height:2px;background:#455a91;"></div>
<div class="b" style="left:134.9px;top:1096.0px;width:2.2px;height:2.2px;background:#455a91;border-radius:50%;"></div>
<div class="b" style="left:140px;top:1096.1px;width:7px;height:2px;background:#455a91;"></div>
<div class="t" style="top:1075.18px;font-size:33.1px;line-height:33.1px;color:#ffffff;font-weight:normal;left:163.50px;-webkit-text-stroke:0.6px #fff;">Ответы на форму (1)</div>
<svg class="s" style="left:503.6px;top:1089.2px;" width="16" height="7.6" viewBox="0 0 16 7.6"><path d="M0 0H16L8.0 7.6Z" fill="#ffffff"/></svg>
<div class="b" style="left:1842px;top:1062px;width:48px;height:60px;background:#ffffff;border-radius:24px;"></div>
<svg class="s" style="left:1855px;top:1081px;" width="22" height="22" viewBox="0 0 22 22"><path d="M11 0V22M0 11H22" stroke="#3c3d44" stroke-width="3"/></svg>
<div class="b" style="left:670.0px;top:1151.6px;width:4.8px;height:4.8px;background:#5f5f64;border-radius:50%;"></div>
<div class="b" style="left:670.0px;top:1161.3px;width:4.8px;height:4.8px;background:#5f5f64;border-radius:50%;"></div>
<div class="b" style="left:670.0px;top:1171.1999999999998px;width:4.8px;height:4.8px;background:#5f5f64;border-radius:50%;"></div>
<div class="b" style="left:679.5px;top:1151.6px;width:4.8px;height:4.8px;background:#5f5f64;border-radius:50%;"></div>
<div class="b" style="left:679.5px;top:1161.3px;width:4.8px;height:4.8px;background:#5f5f64;border-radius:50%;"></div>
<div class="b" style="left:679.5px;top:1171.1999999999998px;width:4.8px;height:4.8px;background:#5f5f64;border-radius:50%;"></div>
<div class="b" style="left:689.4px;top:1151.6px;width:4.8px;height:4.8px;background:#5f5f64;border-radius:50%;"></div>
<div class="b" style="left:689.4px;top:1161.3px;width:4.8px;height:4.8px;background:#5f5f64;border-radius:50%;"></div>
<div class="b" style="left:689.4px;top:1171.1999999999998px;width:4.8px;height:4.8px;background:#5f5f64;border-radius:50%;"></div>
<div class="b" style="left:727px;top:1140px;width:47.5px;height:47.5px;background:#f6f5f9;border-radius:36%;box-shadow:0 1px 2px rgba(0,0,0,0.12);"></div>
<div class="b" style="left:733px;top:1146px;width:10px;height:10px;background:#f5c542;border-radius:50%;"></div>
<div class="b" style="left:735.5px;top:1148.5px;width:5px;height:5px;background:#fff3c8;border-radius:1px;"></div>
<svg class="s" style="left:745.5px;top:1146px;" width="10" height="10" viewBox="0 0 10 10"><rect x="1" y="2" width="7" height="7" fill="none" stroke="#29a3e8" stroke-width="1.3"/><path d="M4 6L9 1" stroke="#29a3e8" stroke-width="1.4"/></svg>
<div class="b" style="left:758px;top:1146px;width:10px;height:10px;background:#e0261b;border-radius:50%;"></div>
<div class="b" style="left:760px;top:1150px;width:6px;height:2px;background:#fff;"></div>
<div class="b" style="left:802px;top:1141px;width:46px;height:46px;background:#ffffff;border-radius:36%;box-shadow:0 1px 2px rgba(0,0,0,0.12);"></div>
<svg class="s" style="left:802px;top:1141px;" width="46" height="46" viewBox="0 0 46 46"><defs><linearGradient id="sg" x1="0.15" y1="0.9" x2="0.55" y2="0"><stop offset="0" stop-color="#f5e51c"/><stop offset="0.35" stop-color="#a5d52a"/><stop offset="0.65" stop-color="#22a53a"/><stop offset="1" stop-color="#1e8fe6"/></linearGradient></defs><path d="M35.5 13A16 16 0 1 0 39 23" stroke="url(#sg)" stroke-width="3.6" fill="none"/><path d="M14.5 21.5L21 26.5L35 15" stroke="#21a038" stroke-width="4.2" fill="none"/></svg>
<div class="b" style="left:876.6px;top:1141px;width:45.2px;height:46px;background:#ffffff;border-radius:36%;box-shadow:0 1px 2px rgba(0,0,0,0.12);"></div>
<div class="b" style="left:879.5px;top:1144.7px;width:38.6px;height:38.6px;background:#2aa3de;border-radius:50%;"></div>
<svg class="s" style="left:879.5px;top:1144.7px;" width="38.6" height="38.6" viewBox="0 0 38.6 38.6"><path d="M8.2 18.6L28.6 10.8Q30 10.4 29.7 12L26.6 27Q26.2 28.4 24.8 27.6L19.2 23.6L16.6 26.1Q16 26.6 15.9 25.8L15.5 21.3L25 12.9L14.1 20.4L8.8 19.8Q7.6 19.3 8.2 18.6Z" fill="#fff"/></svg>
<div class="b" style="left:949.7px;top:1140.8px;width:46.1px;height:45.9px;background:#e60023;border-radius:36%;"></div>
<svg class="s" style="left:949.7px;top:1140.8px;" width="46" height="46" viewBox="0 0 46 46"><path d="M16.5 26.5C13.5 24.8 12.5 22 12.5 19.5C12.5 13.5 17.3 9.8 23.2 9.8C29 9.8 33.2 13.6 33.2 18.9C33.2 24.6 29.8 28.6 25.3 28.6C23 28.6 21.6 27.2 21.6 25.3" stroke="#fff" stroke-width="4.2" fill="none" stroke-linecap="round"/><path d="M23.3 17.5L18.6 38.5" stroke="#fff" stroke-width="4" stroke-linecap="round"/></svg>
<div class="b" style="left:1024.2px;top:1141px;width:45.8px;height:46px;background:#ffffff;border-radius:36%;box-shadow:0 1px 2px rgba(0,0,0,0.12);"></div>
<svg class="s" style="left:1024.2px;top:1141px;" width="46" height="46" viewBox="0 0 46 46"><ellipse cx="23" cy="23.5" rx="14" ry="15.5" fill="#d6121e"/><ellipse cx="24.5" cy="23.5" rx="7" ry="12" fill="#fff"/><path d="M23 8.2A14 15.5 0 0 1 23 38.8A8.5 13 0 0 0 23 8.2Z" fill="#e8e8e8" stroke="#bbb" stroke-width="0.6"/></svg>
<div class="b" style="left:1094.6px;top:1149px;width:1.8px;height:28.5px;background:#77777c;"></div>
<div class="b" style="left:1124.2px;top:1141px;width:45.8px;height:46px;background:#e30611;border-radius:36%;"></div>
<div class="b" style="left:1129px;top:1159.5px;width:11.5px;height:8.5px;background:#ffb000;"></div>
<div class="b" style="left:1140.5px;top:1159.5px;width:22px;height:8.5px;background:#ffffff;"></div>
<div class="b" style="left:1162.5px;top:1159.5px;width:3px;height:8.5px;background:#888;"></div>
<div class="b" style="left:1197.5px;top:1140.8px;width:46.7px;height:46px;border-radius:36%;overflow:hidden;background:repeating-linear-gradient(125deg,#1d5bf2 0 5px,#ee1486 5px 10px);"><div class="t" style="left:-6px;top:14px;width:60px;text-align:center;font-size:18.5px;line-height:18px;font-weight:bold;color:#fff;transform:rotate(-17deg);transform-origin:30px 9px;letter-spacing:0.5px;">OZON</div></div>
<div class="b" style="left:1497.9px;top:1153.75px;width:2px;height:22px;background:#4e4e54;"></div>
<div class="b" style="left:1507.4px;top:1153.75px;width:2px;height:22px;background:#4e4e54;"></div>
<div class="b" style="left:1517.2px;top:1153.75px;width:2px;height:22px;background:#4e4e54;"></div>
<div class="b" style="left:1634.7px;top:1152.9px;width:24.1px;height:23.2px;background:transparent;border:2.2px solid #4e4e54;border-radius:9px;box-sizing:border-box;"></div>
<svg class="s" style="left:1776px;top:1152px;" width="18" height="26" viewBox="0 0 18 26"><path d="M15.5 1L2 13L15.5 25" stroke="#4e4e54" stroke-width="2.2" fill="none"/></svg></body></html>
